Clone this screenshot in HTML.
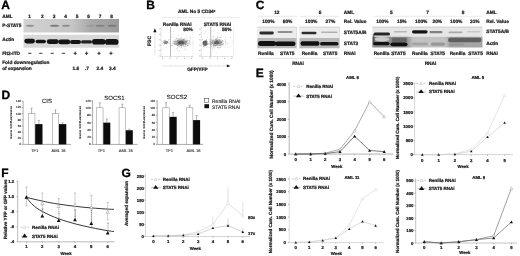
<!DOCTYPE html>
<html><head><meta charset="utf-8"><title>Figure</title>
<style>
html,body{margin:0;padding:0;background:#fff;}
body{width:520px;height:256px;overflow:hidden;}
svg{display:block;filter:blur(0.3px);font-family:"Liberation Sans",sans-serif;text-rendering:geometricPrecision;}
</style></head><body>
<svg width="520" height="256" viewBox="0 0 520 256">
<rect width="520" height="256" fill="#fff"/>
<defs><linearGradient id="gA" x1="0" x2="1" y1="0" y2="0"><stop offset="0" stop-color="#d2d2d2"/><stop offset="0.5" stop-color="#c6c6c6"/><stop offset="0.72" stop-color="#a8a8a8"/><stop offset="1" stop-color="#9c9c9c"/></linearGradient><filter id="b1" x="-20%" y="-60%" width="140%" height="220%"><feGaussianBlur stdDeviation="0.7"/></filter><filter id="b2" x="-20%" y="-60%" width="140%" height="220%"><feGaussianBlur stdDeviation="0.45"/></filter><filter id="b3" x="-50%" y="-50%" width="200%" height="200%"><feGaussianBlur stdDeviation="1.2"/></filter></defs>
<text x="1.3" y="9.3" font-size="12" font-weight="bold" text-anchor="start" fill="#000" stroke="#000" stroke-width="0.3">A</text>
<text x="2.2" y="17.6" font-size="4.8" font-weight="bold" text-anchor="start" fill="#1a1a1a" stroke="#1a1a1a" stroke-width="0.22">AML</text>
<text x="29.5" y="17.6" font-size="4.8" font-weight="bold" text-anchor="middle" fill="#1a1a1a" stroke="#1a1a1a" stroke-width="0.22">1</text>
<text x="42.3" y="17.6" font-size="4.8" font-weight="bold" text-anchor="middle" fill="#1a1a1a" stroke="#1a1a1a" stroke-width="0.22">2</text>
<text x="54" y="17.6" font-size="4.8" font-weight="bold" text-anchor="middle" fill="#1a1a1a" stroke="#1a1a1a" stroke-width="0.22">3</text>
<text x="65.5" y="17.6" font-size="4.8" font-weight="bold" text-anchor="middle" fill="#1a1a1a" stroke="#1a1a1a" stroke-width="0.22">4</text>
<text x="77" y="17.6" font-size="4.8" font-weight="bold" text-anchor="middle" fill="#1a1a1a" stroke="#1a1a1a" stroke-width="0.22">5</text>
<text x="88.5" y="17.6" font-size="4.8" font-weight="bold" text-anchor="middle" fill="#1a1a1a" stroke="#1a1a1a" stroke-width="0.22">6</text>
<text x="100" y="17.6" font-size="4.8" font-weight="bold" text-anchor="middle" fill="#1a1a1a" stroke="#1a1a1a" stroke-width="0.22">7</text>
<text x="111.5" y="17.6" font-size="4.8" font-weight="bold" text-anchor="middle" fill="#1a1a1a" stroke="#1a1a1a" stroke-width="0.22">8</text>
<rect x="23.5" y="19" width="95.5" height="13.5" fill="url(#gA)" stroke="none" stroke-width="0.5"/>
<ellipse cx="30" cy="25.8" rx="4" ry="1.0" fill="#444" opacity="0.45" filter="url(#b2)"/>
<ellipse cx="54.5" cy="25.8" rx="4.5" ry="1.0" fill="#444" opacity="0.6" filter="url(#b2)"/>
<ellipse cx="66" cy="25.8" rx="4" ry="1.0" fill="#444" opacity="0.45" filter="url(#b2)"/>
<ellipse cx="100" cy="25.8" rx="4.5" ry="1.0" fill="#444" opacity="0.35" filter="url(#b2)"/>
<ellipse cx="112" cy="25.8" rx="4.5" ry="1.0" fill="#444" opacity="0.4" filter="url(#b2)"/>
<ellipse cx="90" cy="25.8" rx="4" ry="1.0" fill="#444" opacity="0.15" filter="url(#b2)"/>
<text x="2.2" y="27.2" font-size="4.8" font-weight="bold" text-anchor="start" fill="#1a1a1a" stroke="#1a1a1a" stroke-width="0.22">P-STAT5</text>
<rect x="23.5" y="34.7" width="95.5" height="13" fill="#d8d8d8" stroke="none" stroke-width="0.5"/>
<rect x="24.3" y="38.699999999999996" width="10.7" height="4.8" rx="2.4" fill="#0a0a0a" opacity="0.96" filter="url(#b2)"/>
<rect x="35.5" y="39.7" width="10.5" height="3.6" rx="1.8" fill="#111" opacity="0.96" filter="url(#b2)"/>
<rect x="46.8" y="39.3" width="11.900000000000006" height="4.6" rx="2.3" fill="#0a0a0a" opacity="0.96" filter="url(#b2)"/>
<rect x="58.3" y="39.6" width="11.900000000000006" height="4.6" rx="2.3" fill="#0a0a0a" opacity="0.96" filter="url(#b2)"/>
<rect x="70" y="39.9" width="11" height="4.0" rx="2.0" fill="#111" opacity="0.96" filter="url(#b2)"/>
<rect x="81" y="40.3" width="11" height="3.2" rx="1.6" fill="#1a1a1a" opacity="0.96" filter="url(#b2)"/>
<rect x="92" y="39.0" width="13.599999999999994" height="5.6" rx="2.8" fill="#0a0a0a" opacity="0.96" filter="url(#b2)"/>
<rect x="105" y="39.0" width="13.5" height="5.8" rx="2.9" fill="#0a0a0a" opacity="0.96" filter="url(#b2)"/>
<text x="2.2" y="41.4" font-size="4.8" font-weight="bold" text-anchor="start" fill="#1a1a1a" stroke="#1a1a1a" stroke-width="0.22">Actin</text>
<text x="2.2" y="55.3" font-size="4.8" font-weight="bold" text-anchor="start" fill="#1a1a1a" stroke="#1a1a1a" stroke-width="0.22">Flt3-ITD</text>
<line x1="28.2" y1="53.3" x2="31.400000000000002" y2="53.3" stroke="#222" stroke-width="0.9"/>
<line x1="39.199999999999996" y1="53.3" x2="42.4" y2="53.3" stroke="#222" stroke-width="0.9"/>
<line x1="50.6" y1="53.3" x2="53.800000000000004" y2="53.3" stroke="#222" stroke-width="0.9"/>
<line x1="61.8" y1="53.3" x2="65.0" y2="53.3" stroke="#222" stroke-width="0.9"/>
<line x1="73.60000000000001" y1="53.3" x2="76.8" y2="53.3" stroke="#222" stroke-width="0.9"/>
<line x1="75.2" y1="51.6" x2="75.2" y2="55" stroke="#222" stroke-width="0.9"/>
<line x1="85.0" y1="53.3" x2="88.19999999999999" y2="53.3" stroke="#222" stroke-width="0.9"/>
<line x1="86.6" y1="51.6" x2="86.6" y2="55" stroke="#222" stroke-width="0.9"/>
<line x1="97.4" y1="53.3" x2="100.6" y2="53.3" stroke="#222" stroke-width="0.9"/>
<line x1="99" y1="51.6" x2="99" y2="55" stroke="#222" stroke-width="0.9"/>
<line x1="109.4" y1="53.3" x2="112.6" y2="53.3" stroke="#222" stroke-width="0.9"/>
<line x1="111" y1="51.6" x2="111" y2="55" stroke="#222" stroke-width="0.9"/>
<text x="2.2" y="64.3" font-size="4.8" font-weight="bold" text-anchor="start" fill="#1a1a1a" stroke="#1a1a1a" stroke-width="0.22">Fold downregulation</text>
<text x="2.2" y="69.9" font-size="4.8" font-weight="bold" text-anchor="start" fill="#1a1a1a" stroke="#1a1a1a" stroke-width="0.22">of expansion</text>
<text x="72.5" y="69.9" font-size="4.8" font-weight="bold" text-anchor="start" fill="#1a1a1a" stroke="#1a1a1a" stroke-width="0.22">1.6</text>
<text x="85" y="69.9" font-size="4.8" font-weight="bold" text-anchor="start" fill="#1a1a1a" stroke="#1a1a1a" stroke-width="0.22">.7</text>
<text x="96.5" y="69.9" font-size="4.8" font-weight="bold" text-anchor="start" fill="#1a1a1a" stroke="#1a1a1a" stroke-width="0.22">2.4</text>
<text x="109" y="69.9" font-size="4.8" font-weight="bold" text-anchor="start" fill="#1a1a1a" stroke="#1a1a1a" stroke-width="0.22">3.4</text>
<text x="146.3" y="9.3" font-size="12" font-weight="bold" text-anchor="start" fill="#000" stroke="#000" stroke-width="0.3">B</text>
<text x="196.8" y="13.4" font-size="4.8" font-weight="bold" text-anchor="middle" fill="#1a1a1a" stroke="#1a1a1a" stroke-width="0.22">AML No 5 CD34<tspan font-size="3" dy="-1.5">+</tspan></text>
<line x1="162" y1="17.4" x2="240" y2="17.4" stroke="#d0d0d0" stroke-width="0.45"/>
<text x="191.6" y="25.5" font-size="4.8" font-weight="bold" text-anchor="end" fill="#1a1a1a" stroke="#1a1a1a" stroke-width="0.22">Renilla RNAi</text>
<text x="192.9" y="31" font-size="4.8" font-weight="bold" text-anchor="end" fill="#1a1a1a" stroke="#1a1a1a" stroke-width="0.22">80%</text>
<text x="231.2" y="25.5" font-size="4.8" font-weight="bold" text-anchor="end" fill="#1a1a1a" stroke="#1a1a1a" stroke-width="0.22">STAT5 RNAi</text>
<text x="231.5" y="31" font-size="4.8" font-weight="bold" text-anchor="end" fill="#1a1a1a" stroke="#1a1a1a" stroke-width="0.22">56%</text>
<line x1="161" y1="27" x2="161" y2="56.5" stroke="#aaa" stroke-width="0.5" stroke-dasharray="0.8 0.5"/>
<line x1="161" y1="56.5" x2="193" y2="56.5" stroke="#aaa" stroke-width="0.5" stroke-dasharray="0.8 0.5"/>
<line x1="193.2" y1="27" x2="193.2" y2="56.5" stroke="#d8d8d8" stroke-width="0.4"/>
<line x1="170.5" y1="27" x2="170.5" y2="56.5" stroke="#777" stroke-width="0.5"/>
<line x1="160" y1="29.0" x2="161" y2="29.0" stroke="#999" stroke-width="0.4"/>
<rect x="158.8" y="28.6" width="0.8" height="0.8" fill="#aaa" stroke="none" stroke-width="0.5"/>
<line x1="160" y1="34.4" x2="161" y2="34.4" stroke="#999" stroke-width="0.4"/>
<rect x="158.8" y="34.0" width="0.8" height="0.8" fill="#aaa" stroke="none" stroke-width="0.5"/>
<line x1="160" y1="39.8" x2="161" y2="39.8" stroke="#999" stroke-width="0.4"/>
<rect x="158.8" y="39.400000000000006" width="0.8" height="0.8" fill="#aaa" stroke="none" stroke-width="0.5"/>
<line x1="160" y1="45.2" x2="161" y2="45.2" stroke="#999" stroke-width="0.4"/>
<rect x="158.8" y="44.800000000000004" width="0.8" height="0.8" fill="#aaa" stroke="none" stroke-width="0.5"/>
<line x1="160" y1="50.6" x2="161" y2="50.6" stroke="#999" stroke-width="0.4"/>
<rect x="158.8" y="50.2" width="0.8" height="0.8" fill="#aaa" stroke="none" stroke-width="0.5"/>
<line x1="160" y1="56.0" x2="161" y2="56.0" stroke="#999" stroke-width="0.4"/>
<rect x="158.8" y="55.6" width="0.8" height="0.8" fill="#aaa" stroke="none" stroke-width="0.5"/>
<line x1="162.5" y1="56.5" x2="162.5" y2="57.5" stroke="#999" stroke-width="0.4"/>
<rect x="162.0" y="58.2" width="1" height="0.8" fill="#aaa" stroke="none" stroke-width="0.5"/>
<line x1="169.8" y1="56.5" x2="169.8" y2="57.5" stroke="#999" stroke-width="0.4"/>
<rect x="169.3" y="58.2" width="1" height="0.8" fill="#aaa" stroke="none" stroke-width="0.5"/>
<line x1="177.1" y1="56.5" x2="177.1" y2="57.5" stroke="#999" stroke-width="0.4"/>
<rect x="176.6" y="58.2" width="1" height="0.8" fill="#aaa" stroke="none" stroke-width="0.5"/>
<line x1="184.4" y1="56.5" x2="184.4" y2="57.5" stroke="#999" stroke-width="0.4"/>
<rect x="183.9" y="58.2" width="1" height="0.8" fill="#aaa" stroke="none" stroke-width="0.5"/>
<line x1="191.7" y1="56.5" x2="191.7" y2="57.5" stroke="#999" stroke-width="0.4"/>
<rect x="191.2" y="58.2" width="1" height="0.8" fill="#aaa" stroke="none" stroke-width="0.5"/>
<ellipse cx="165.8" cy="42.4" rx="2.2" ry="1.6" fill="#555" opacity="0.55" filter="url(#b1)"/>
<ellipse cx="181" cy="42.5" rx="6.5" ry="3.0" fill="#444" opacity="0.5" filter="url(#b3)"/>
<ellipse cx="181" cy="42.5" rx="3.3" ry="1.6" fill="#222" opacity="0.6" filter="url(#b1)"/>
<path d="M166.0,43.9h.6v.6h-.6zM164.3,43.6h.6v.6h-.6zM165.4,42.1h.6v.6h-.6zM168.8,42.6h.6v.6h-.6zM165.7,43.3h.6v.6h-.6zM167.6,42.4h.6v.6h-.6zM166.7,41.2h.6v.6h-.6zM165.2,41.9h.6v.6h-.6zM163.7,40.6h.6v.6h-.6zM163.2,42.1h.6v.6h-.6zM165.5,42.0h.6v.6h-.6zM165.9,40.8h.6v.6h-.6zM165.7,42.7h.6v.6h-.6zM167.0,41.4h.6v.6h-.6zM165.2,40.0h.6v.6h-.6zM165.0,39.8h.6v.6h-.6zM163.5,43.7h.6v.6h-.6zM162.3,43.4h.6v.6h-.6zM166.3,42.0h.6v.6h-.6zM166.5,43.0h.6v.6h-.6zM167.5,42.1h.6v.6h-.6zM164.9,41.7h.6v.6h-.6zM164.2,42.3h.6v.6h-.6zM164.5,43.7h.6v.6h-.6zM162.8,41.1h.6v.6h-.6zM164.3,39.9h.6v.6h-.6zM168.8,39.5h.6v.6h-.6zM165.3,41.8h.6v.6h-.6zM168.4,40.0h.6v.6h-.6zM167.5,41.5h.6v.6h-.6z" fill="#555" opacity="0.7"/>
<path d="M180.3,40.9h.6v.6h-.6zM183.9,39.8h.6v.6h-.6zM180.6,43.3h.6v.6h-.6zM189.3,36.7h.6v.6h-.6zM187.9,44.8h.6v.6h-.6zM178.8,43.2h.6v.6h-.6zM178.9,46.5h.6v.6h-.6zM181.9,42.0h.6v.6h-.6zM180.0,42.0h.6v.6h-.6zM180.2,40.4h.6v.6h-.6zM190.3,37.9h.6v.6h-.6zM164.8,42.2h.6v.6h-.6zM180.3,43.4h.6v.6h-.6zM180.1,42.1h.6v.6h-.6zM182.5,44.8h.6v.6h-.6zM179.0,41.6h.6v.6h-.6zM189.7,43.8h.6v.6h-.6zM176.6,48.1h.6v.6h-.6zM184.5,41.1h.6v.6h-.6zM175.7,43.2h.6v.6h-.6zM177.3,40.0h.6v.6h-.6zM175.2,41.3h.6v.6h-.6zM186.0,41.5h.6v.6h-.6zM174.5,44.1h.6v.6h-.6zM181.3,44.5h.6v.6h-.6zM186.4,42.1h.6v.6h-.6zM180.3,42.4h.6v.6h-.6zM175.9,44.1h.6v.6h-.6zM187.2,42.9h.6v.6h-.6zM179.9,41.9h.6v.6h-.6zM177.5,40.6h.6v.6h-.6zM179.2,40.5h.6v.6h-.6zM179.0,38.7h.6v.6h-.6zM182.6,42.6h.6v.6h-.6zM175.8,37.0h.6v.6h-.6zM181.0,45.1h.6v.6h-.6zM177.7,41.3h.6v.6h-.6zM178.4,44.1h.6v.6h-.6zM176.9,44.9h.6v.6h-.6zM179.6,44.7h.6v.6h-.6zM181.1,41.9h.6v.6h-.6zM174.3,40.9h.6v.6h-.6zM179.8,44.1h.6v.6h-.6zM182.1,40.8h.6v.6h-.6zM182.8,44.9h.6v.6h-.6zM180.3,41.4h.6v.6h-.6zM179.2,44.4h.6v.6h-.6zM183.4,40.3h.6v.6h-.6zM182.7,41.3h.6v.6h-.6zM177.6,45.5h.6v.6h-.6zM184.7,40.8h.6v.6h-.6zM181.4,43.7h.6v.6h-.6zM178.1,42.2h.6v.6h-.6zM184.0,38.2h.6v.6h-.6zM182.5,44.3h.6v.6h-.6zM183.3,39.3h.6v.6h-.6zM182.4,40.4h.6v.6h-.6zM183.6,44.0h.6v.6h-.6zM182.0,40.7h.6v.6h-.6zM178.3,44.5h.6v.6h-.6zM177.0,43.7h.6v.6h-.6zM183.3,41.8h.6v.6h-.6zM191.8,42.7h.6v.6h-.6zM190.7,37.7h.6v.6h-.6zM170.9,44.9h.6v.6h-.6zM183.9,41.8h.6v.6h-.6zM180.8,37.9h.6v.6h-.6zM178.2,40.0h.6v.6h-.6zM180.0,44.6h.6v.6h-.6zM181.2,43.4h.6v.6h-.6zM177.9,41.5h.6v.6h-.6zM181.5,41.8h.6v.6h-.6zM186.7,40.4h.6v.6h-.6zM189.5,40.1h.6v.6h-.6zM185.8,40.6h.6v.6h-.6zM188.4,42.8h.6v.6h-.6zM182.8,44.3h.6v.6h-.6zM178.1,40.0h.6v.6h-.6zM171.9,45.4h.6v.6h-.6zM177.9,41.1h.6v.6h-.6zM180.9,47.3h.6v.6h-.6zM173.2,43.1h.6v.6h-.6zM179.2,43.8h.6v.6h-.6zM172.9,41.5h.6v.6h-.6zM184.8,46.2h.6v.6h-.6zM188.2,40.4h.6v.6h-.6zM181.2,42.2h.6v.6h-.6zM174.8,39.0h.6v.6h-.6zM184.4,43.1h.6v.6h-.6zM180.4,45.4h.6v.6h-.6zM176.5,43.8h.6v.6h-.6zM181.0,42.4h.6v.6h-.6zM183.2,42.9h.6v.6h-.6zM182.2,43.1h.6v.6h-.6zM189.7,41.8h.6v.6h-.6zM185.6,44.0h.6v.6h-.6zM179.4,44.4h.6v.6h-.6zM177.1,45.3h.6v.6h-.6zM177.4,41.3h.6v.6h-.6zM182.5,44.5h.6v.6h-.6zM185.1,44.6h.6v.6h-.6zM180.1,40.2h.6v.6h-.6zM183.5,43.2h.6v.6h-.6zM176.7,44.8h.6v.6h-.6zM181.9,40.2h.6v.6h-.6zM183.0,39.3h.6v.6h-.6zM177.1,43.5h.6v.6h-.6zM174.0,42.6h.6v.6h-.6zM174.9,44.3h.6v.6h-.6zM177.7,42.9h.6v.6h-.6zM174.2,41.7h.6v.6h-.6zM185.3,43.6h.6v.6h-.6zM172.7,44.7h.6v.6h-.6zM185.0,41.6h.6v.6h-.6zM187.4,40.0h.6v.6h-.6zM180.6,45.2h.6v.6h-.6zM186.9,45.6h.6v.6h-.6zM176.1,38.2h.6v.6h-.6zM182.8,39.1h.6v.6h-.6zM180.4,39.4h.6v.6h-.6zM185.8,44.4h.6v.6h-.6zM183.5,42.5h.6v.6h-.6zM181.2,41.8h.6v.6h-.6zM182.7,43.1h.6v.6h-.6zM183.1,41.5h.6v.6h-.6zM189.5,43.2h.6v.6h-.6zM187.3,45.7h.6v.6h-.6zM177.0,38.5h.6v.6h-.6zM186.7,41.6h.6v.6h-.6zM181.4,41.9h.6v.6h-.6zM181.6,39.6h.6v.6h-.6zM180.5,41.4h.6v.6h-.6zM180.9,36.9h.6v.6h-.6zM184.7,43.3h.6v.6h-.6zM173.2,40.7h.6v.6h-.6zM181.1,44.0h.6v.6h-.6zM181.0,45.8h.6v.6h-.6zM181.1,40.1h.6v.6h-.6zM178.0,44.3h.6v.6h-.6zM178.2,44.5h.6v.6h-.6zM185.6,43.9h.6v.6h-.6zM185.6,42.1h.6v.6h-.6zM181.0,41.1h.6v.6h-.6zM178.3,38.7h.6v.6h-.6zM178.5,39.9h.6v.6h-.6zM174.6,42.9h.6v.6h-.6zM183.0,41.7h.6v.6h-.6zM187.2,44.8h.6v.6h-.6zM185.7,41.1h.6v.6h-.6zM174.3,43.8h.6v.6h-.6z" fill="#555" opacity="0.7"/>
<path d="M183.8,46.1h.6v.6h-.6zM184.8,48.8h.6v.6h-.6zM178.4,45.8h.6v.6h-.6zM172.9,31.0h.6v.6h-.6zM177.0,50.0h.6v.6h-.6zM165.9,47.6h.6v.6h-.6zM174.9,40.5h.6v.6h-.6zM181.4,43.6h.6v.6h-.6zM172.2,43.1h.6v.6h-.6zM185.0,46.7h.6v.6h-.6zM174.2,50.3h.6v.6h-.6zM168.9,43.4h.6v.6h-.6zM164.3,44.4h.6v.6h-.6zM186.0,36.8h.6v.6h-.6zM166.7,43.4h.6v.6h-.6zM186.7,38.5h.6v.6h-.6zM178.6,29.9h.6v.6h-.6zM174.6,43.2h.6v.6h-.6zM182.4,50.4h.6v.6h-.6zM170.7,31.2h.6v.6h-.6zM185.1,39.5h.6v.6h-.6zM183.6,46.1h.6v.6h-.6zM186.4,49.7h.6v.6h-.6zM180.4,52.5h.6v.6h-.6zM177.3,47.3h.6v.6h-.6zM180.5,40.4h.6v.6h-.6zM178.8,47.0h.6v.6h-.6zM169.2,38.9h.6v.6h-.6zM189.1,42.7h.6v.6h-.6zM171.4,44.7h.6v.6h-.6zM184.0,48.9h.6v.6h-.6zM189.6,41.1h.6v.6h-.6zM176.6,41.8h.6v.6h-.6zM178.9,49.8h.6v.6h-.6zM184.4,41.3h.6v.6h-.6zM189.1,40.8h.6v.6h-.6zM183.1,34.2h.6v.6h-.6zM177.2,49.7h.6v.6h-.6zM171.8,35.0h.6v.6h-.6zM179.5,50.8h.6v.6h-.6zM176.7,41.9h.6v.6h-.6zM172.6,42.7h.6v.6h-.6zM178.3,35.1h.6v.6h-.6zM175.8,41.2h.6v.6h-.6zM173.3,36.9h.6v.6h-.6z" fill="#999" opacity="0.7"/>
<line x1="201.2" y1="27" x2="201.2" y2="56.5" stroke="#aaa" stroke-width="0.5" stroke-dasharray="0.8 0.5"/>
<line x1="201.2" y1="56.5" x2="233.2" y2="56.5" stroke="#aaa" stroke-width="0.5" stroke-dasharray="0.8 0.5"/>
<line x1="233.39999999999998" y1="27" x2="233.39999999999998" y2="56.5" stroke="#d8d8d8" stroke-width="0.4"/>
<line x1="210.7" y1="27" x2="210.7" y2="56.5" stroke="#777" stroke-width="0.5"/>
<line x1="200.2" y1="29.0" x2="201.2" y2="29.0" stroke="#999" stroke-width="0.4"/>
<rect x="199.0" y="28.6" width="0.8" height="0.8" fill="#aaa" stroke="none" stroke-width="0.5"/>
<line x1="200.2" y1="34.4" x2="201.2" y2="34.4" stroke="#999" stroke-width="0.4"/>
<rect x="199.0" y="34.0" width="0.8" height="0.8" fill="#aaa" stroke="none" stroke-width="0.5"/>
<line x1="200.2" y1="39.8" x2="201.2" y2="39.8" stroke="#999" stroke-width="0.4"/>
<rect x="199.0" y="39.400000000000006" width="0.8" height="0.8" fill="#aaa" stroke="none" stroke-width="0.5"/>
<line x1="200.2" y1="45.2" x2="201.2" y2="45.2" stroke="#999" stroke-width="0.4"/>
<rect x="199.0" y="44.800000000000004" width="0.8" height="0.8" fill="#aaa" stroke="none" stroke-width="0.5"/>
<line x1="200.2" y1="50.6" x2="201.2" y2="50.6" stroke="#999" stroke-width="0.4"/>
<rect x="199.0" y="50.2" width="0.8" height="0.8" fill="#aaa" stroke="none" stroke-width="0.5"/>
<line x1="200.2" y1="56.0" x2="201.2" y2="56.0" stroke="#999" stroke-width="0.4"/>
<rect x="199.0" y="55.6" width="0.8" height="0.8" fill="#aaa" stroke="none" stroke-width="0.5"/>
<line x1="202.7" y1="56.5" x2="202.7" y2="57.5" stroke="#999" stroke-width="0.4"/>
<rect x="202.2" y="58.2" width="1" height="0.8" fill="#aaa" stroke="none" stroke-width="0.5"/>
<line x1="210.0" y1="56.5" x2="210.0" y2="57.5" stroke="#999" stroke-width="0.4"/>
<rect x="209.5" y="58.2" width="1" height="0.8" fill="#aaa" stroke="none" stroke-width="0.5"/>
<line x1="217.29999999999998" y1="56.5" x2="217.29999999999998" y2="57.5" stroke="#999" stroke-width="0.4"/>
<rect x="216.79999999999998" y="58.2" width="1" height="0.8" fill="#aaa" stroke="none" stroke-width="0.5"/>
<line x1="224.6" y1="56.5" x2="224.6" y2="57.5" stroke="#999" stroke-width="0.4"/>
<rect x="224.1" y="58.2" width="1" height="0.8" fill="#aaa" stroke="none" stroke-width="0.5"/>
<line x1="231.89999999999998" y1="56.5" x2="231.89999999999998" y2="57.5" stroke="#999" stroke-width="0.4"/>
<rect x="231.39999999999998" y="58.2" width="1" height="0.8" fill="#aaa" stroke="none" stroke-width="0.5"/>
<ellipse cx="205.0" cy="43.2" rx="2.4" ry="2.6" fill="#333" opacity="0.65" filter="url(#b1)"/>
<ellipse cx="216.7" cy="42.5" rx="6.0" ry="3.0" fill="#444" opacity="0.45" filter="url(#b3)"/>
<ellipse cx="216.7" cy="42.5" rx="2.6" ry="1.6" fill="#222" opacity="0.55" filter="url(#b1)"/>
<path d="M206.6,47.0h.6v.6h-.6zM204.7,42.4h.6v.6h-.6zM206.0,42.7h.6v.6h-.6zM203.9,46.0h.6v.6h-.6zM203.5,41.7h.6v.6h-.6zM204.1,41.4h.6v.6h-.6zM204.8,44.4h.6v.6h-.6zM207.5,44.5h.6v.6h-.6zM205.3,40.7h.6v.6h-.6zM205.1,41.3h.6v.6h-.6zM205.0,45.2h.6v.6h-.6zM205.5,42.8h.6v.6h-.6zM204.0,43.2h.6v.6h-.6zM205.4,41.3h.6v.6h-.6zM204.4,45.0h.6v.6h-.6zM202.5,42.3h.6v.6h-.6zM203.3,46.3h.6v.6h-.6zM206.2,44.2h.6v.6h-.6zM205.8,43.8h.6v.6h-.6zM205.7,40.0h.6v.6h-.6zM205.6,44.4h.6v.6h-.6zM202.9,44.8h.6v.6h-.6zM206.3,40.2h.6v.6h-.6zM204.4,42.6h.6v.6h-.6zM204.4,44.0h.6v.6h-.6zM203.2,42.8h.6v.6h-.6zM205.6,44.6h.6v.6h-.6zM205.3,42.7h.6v.6h-.6zM206.3,39.2h.6v.6h-.6zM206.7,42.6h.6v.6h-.6zM203.2,42.3h.6v.6h-.6zM202.3,39.1h.6v.6h-.6zM204.7,41.6h.6v.6h-.6zM206.4,41.4h.6v.6h-.6zM203.1,41.3h.6v.6h-.6zM207.9,43.3h.6v.6h-.6zM204.2,41.2h.6v.6h-.6zM203.4,42.9h.6v.6h-.6zM205.9,45.5h.6v.6h-.6zM207.0,43.7h.6v.6h-.6zM204.1,41.5h.6v.6h-.6zM205.9,42.5h.6v.6h-.6zM205.8,40.5h.6v.6h-.6zM206.6,43.8h.6v.6h-.6zM205.3,44.0h.6v.6h-.6zM203.8,46.8h.6v.6h-.6zM204.9,42.2h.6v.6h-.6zM206.6,41.1h.6v.6h-.6z" fill="#444" opacity="0.7"/>
<path d="M222.7,40.8h.6v.6h-.6zM216.5,40.3h.6v.6h-.6zM220.1,37.3h.6v.6h-.6zM219.6,40.5h.6v.6h-.6zM216.9,39.7h.6v.6h-.6zM217.7,42.9h.6v.6h-.6zM219.2,43.3h.6v.6h-.6zM219.3,44.9h.6v.6h-.6zM215.1,39.7h.6v.6h-.6zM211.3,44.1h.6v.6h-.6zM215.1,45.0h.6v.6h-.6zM216.9,40.1h.6v.6h-.6zM220.5,47.2h.6v.6h-.6zM215.9,40.2h.6v.6h-.6zM213.1,44.6h.6v.6h-.6zM214.2,41.5h.6v.6h-.6zM219.6,42.5h.6v.6h-.6zM217.2,41.2h.6v.6h-.6zM214.0,42.9h.6v.6h-.6zM217.4,43.9h.6v.6h-.6zM214.6,43.3h.6v.6h-.6zM218.7,42.7h.6v.6h-.6zM219.1,44.9h.6v.6h-.6zM217.5,42.7h.6v.6h-.6zM212.6,43.3h.6v.6h-.6zM216.3,41.8h.6v.6h-.6zM213.2,43.9h.6v.6h-.6zM227.4,43.5h.6v.6h-.6zM217.1,43.5h.6v.6h-.6zM214.2,42.7h.6v.6h-.6zM213.9,41.0h.6v.6h-.6zM217.7,43.1h.6v.6h-.6zM216.2,40.6h.6v.6h-.6zM217.8,39.9h.6v.6h-.6zM219.9,41.7h.6v.6h-.6zM216.7,44.4h.6v.6h-.6zM219.0,39.4h.6v.6h-.6zM215.7,43.4h.6v.6h-.6zM212.1,36.7h.6v.6h-.6zM216.4,42.4h.6v.6h-.6zM218.5,42.7h.6v.6h-.6zM217.3,43.1h.6v.6h-.6zM222.5,43.7h.6v.6h-.6zM219.0,41.6h.6v.6h-.6zM221.4,42.1h.6v.6h-.6zM219.8,37.4h.6v.6h-.6zM217.7,42.3h.6v.6h-.6zM214.8,45.6h.6v.6h-.6zM218.4,42.2h.6v.6h-.6zM214.5,47.0h.6v.6h-.6zM219.8,44.1h.6v.6h-.6zM213.5,45.6h.6v.6h-.6zM219.0,41.9h.6v.6h-.6zM216.3,38.6h.6v.6h-.6zM219.4,39.9h.6v.6h-.6zM220.2,41.4h.6v.6h-.6zM214.1,43.4h.6v.6h-.6zM217.6,39.8h.6v.6h-.6zM216.4,44.0h.6v.6h-.6zM215.6,39.3h.6v.6h-.6zM215.7,40.2h.6v.6h-.6zM214.3,42.6h.6v.6h-.6zM216.5,42.0h.6v.6h-.6zM209.8,43.3h.6v.6h-.6zM215.9,41.5h.6v.6h-.6zM217.4,47.1h.6v.6h-.6zM211.3,38.7h.6v.6h-.6zM219.9,40.6h.6v.6h-.6zM222.1,40.1h.6v.6h-.6zM214.7,44.5h.6v.6h-.6zM220.5,43.6h.6v.6h-.6zM218.6,42.2h.6v.6h-.6zM214.9,42.0h.6v.6h-.6zM222.0,44.2h.6v.6h-.6zM216.8,43.3h.6v.6h-.6zM220.2,45.3h.6v.6h-.6zM216.1,42.3h.6v.6h-.6zM218.1,48.7h.6v.6h-.6zM217.7,45.5h.6v.6h-.6zM210.3,44.5h.6v.6h-.6zM210.8,39.9h.6v.6h-.6zM214.1,42.2h.6v.6h-.6zM217.4,43.4h.6v.6h-.6zM217.6,41.5h.6v.6h-.6zM227.5,43.4h.6v.6h-.6zM219.5,47.3h.6v.6h-.6zM220.7,43.9h.6v.6h-.6zM218.0,46.9h.6v.6h-.6zM212.2,40.2h.6v.6h-.6zM217.3,37.6h.6v.6h-.6zM213.5,45.2h.6v.6h-.6zM214.8,42.9h.6v.6h-.6zM219.6,39.7h.6v.6h-.6zM217.8,41.0h.6v.6h-.6zM212.1,41.8h.6v.6h-.6zM216.5,41.5h.6v.6h-.6zM214.0,44.8h.6v.6h-.6zM221.5,43.8h.6v.6h-.6zM216.3,40.0h.6v.6h-.6zM213.3,39.9h.6v.6h-.6zM217.6,44.7h.6v.6h-.6zM220.5,42.4h.6v.6h-.6zM215.1,42.9h.6v.6h-.6zM217.2,43.9h.6v.6h-.6zM222.8,40.9h.6v.6h-.6zM225.4,37.5h.6v.6h-.6zM209.3,38.9h.6v.6h-.6zM212.4,41.9h.6v.6h-.6zM225.3,40.8h.6v.6h-.6zM221.3,41.6h.6v.6h-.6zM217.3,40.1h.6v.6h-.6zM226.1,42.4h.6v.6h-.6zM214.1,47.9h.6v.6h-.6zM217.5,43.5h.6v.6h-.6zM216.1,40.5h.6v.6h-.6zM210.7,42.1h.6v.6h-.6zM223.4,43.5h.6v.6h-.6zM216.0,45.0h.6v.6h-.6zM212.8,45.8h.6v.6h-.6zM216.6,40.5h.6v.6h-.6zM219.5,43.7h.6v.6h-.6zM215.3,43.0h.6v.6h-.6zM220.8,45.8h.6v.6h-.6zM213.2,36.2h.6v.6h-.6zM225.2,41.9h.6v.6h-.6zM215.0,43.5h.6v.6h-.6zM214.9,45.0h.6v.6h-.6zM211.5,42.0h.6v.6h-.6zM211.5,46.1h.6v.6h-.6zM215.7,45.1h.6v.6h-.6z" fill="#555" opacity="0.7"/>
<path d="M228.6,36.0h.6v.6h-.6zM214.2,46.4h.6v.6h-.6zM216.6,41.8h.6v.6h-.6zM223.7,47.5h.6v.6h-.6zM210.9,41.8h.6v.6h-.6zM222.0,43.7h.6v.6h-.6zM217.5,36.4h.6v.6h-.6zM231.9,41.2h.6v.6h-.6zM218.6,42.3h.6v.6h-.6zM216.8,43.3h.6v.6h-.6zM208.7,44.6h.6v.6h-.6zM226.9,44.7h.6v.6h-.6zM222.7,45.1h.6v.6h-.6zM216.5,52.4h.6v.6h-.6zM210.1,44.6h.6v.6h-.6zM225.4,44.1h.6v.6h-.6zM206.8,36.6h.6v.6h-.6zM230.2,37.3h.6v.6h-.6zM216.3,45.5h.6v.6h-.6zM217.0,32.8h.6v.6h-.6zM209.3,41.1h.6v.6h-.6zM217.0,43.4h.6v.6h-.6zM204.3,33.3h.6v.6h-.6zM224.6,39.1h.6v.6h-.6zM205.7,31.6h.6v.6h-.6zM221.0,35.6h.6v.6h-.6zM206.9,45.9h.6v.6h-.6zM218.9,45.6h.6v.6h-.6zM207.4,40.9h.6v.6h-.6zM210.3,47.4h.6v.6h-.6zM219.4,36.8h.6v.6h-.6zM221.3,41.7h.6v.6h-.6zM211.9,48.6h.6v.6h-.6zM226.0,31.3h.6v.6h-.6zM214.5,41.6h.6v.6h-.6zM206.1,39.4h.6v.6h-.6zM208.9,42.8h.6v.6h-.6zM211.2,30.8h.6v.6h-.6zM226.9,47.4h.6v.6h-.6zM208.7,47.3h.6v.6h-.6zM212.5,39.7h.6v.6h-.6zM221.2,40.8h.6v.6h-.6zM203.6,49.4h.6v.6h-.6zM213.3,46.5h.6v.6h-.6zM212.5,47.5h.6v.6h-.6zM215.2,45.4h.6v.6h-.6zM221.9,44.4h.6v.6h-.6zM217.3,44.6h.6v.6h-.6zM222.9,35.9h.6v.6h-.6zM216.6,42.0h.6v.6h-.6zM222.6,44.3h.6v.6h-.6zM209.1,43.0h.6v.6h-.6z" fill="#999" opacity="0.7"/>
<text x="150.6" y="41" font-size="5.0" font-weight="bold" text-anchor="middle" fill="#1a1a1a" transform="rotate(-90 150.6 41)" stroke="#1a1a1a" stroke-width="0.22">FSC</text>
<line x1="154.9" y1="54.5" x2="154.9" y2="31.5" stroke="#aaa" stroke-width="0.5" stroke-dasharray="0.8 0.5"/>
<polygon points="154.9,28.3 153.3,32.2 156.5,32.2" fill="#111"/>
<line x1="162" y1="65.9" x2="227" y2="65.9" stroke="#aaa" stroke-width="0.5" stroke-dasharray="0.8 0.5"/>
<polygon points="230.5,65.9 226.8,64.5 226.8,67.3" fill="#111"/>
<text x="197.4" y="70.8" font-size="4.8" font-weight="bold" text-anchor="middle" fill="#1a1a1a" stroke="#1a1a1a" stroke-width="0.22">GFP/YFP</text>
<text x="255.8" y="9.3" font-size="12" font-weight="bold" text-anchor="start" fill="#000" stroke="#000" stroke-width="0.3">C</text>
<text x="276.8" y="14.1" font-size="4.8" font-weight="bold" text-anchor="middle" fill="#1a1a1a" stroke="#1a1a1a" stroke-width="0.22">12</text>
<text x="320" y="14.1" font-size="4.8" font-weight="bold" text-anchor="middle" fill="#1a1a1a" stroke="#1a1a1a" stroke-width="0.22">6</text>
<text x="343.8" y="14.1" font-size="4.8" font-weight="bold" text-anchor="start" fill="#1a1a1a" stroke="#1a1a1a" stroke-width="0.22">AML</text>
<line x1="258" y1="16.3" x2="297" y2="16.3" stroke="#d4d4d4" stroke-width="0.5"/>
<line x1="300" y1="16.3" x2="339" y2="16.3" stroke="#d4d4d4" stroke-width="0.5"/>
<text x="268.4" y="22.7" font-size="4.8" font-weight="bold" text-anchor="middle" fill="#1a1a1a" stroke="#1a1a1a" stroke-width="0.22">100%</text>
<text x="287.6" y="22.7" font-size="4.8" font-weight="bold" text-anchor="middle" fill="#1a1a1a" stroke="#1a1a1a" stroke-width="0.22">80%</text>
<text x="311.2" y="22.7" font-size="4.8" font-weight="bold" text-anchor="middle" fill="#1a1a1a" stroke="#1a1a1a" stroke-width="0.22">100%</text>
<text x="330.4" y="22.7" font-size="4.8" font-weight="bold" text-anchor="middle" fill="#1a1a1a" stroke="#1a1a1a" stroke-width="0.22">27%</text>
<text x="343.8" y="22.7" font-size="4.8" font-weight="bold" text-anchor="start" fill="#1a1a1a" stroke="#1a1a1a" stroke-width="0.22">Rel. Value</text>
<rect x="257.3" y="27" width="39.2" height="11" fill="#ececec" stroke="none" stroke-width="0.5"/>
<rect x="257.3" y="38" width="39.2" height="10.3" fill="#b8b8b8" stroke="none" stroke-width="0.5"/>
<line x1="257.3" y1="27" x2="296.5" y2="27" stroke="#aaa" stroke-width="0.4"/>
<line x1="296.5" y1="27" x2="296.5" y2="48.3" stroke="#bbb" stroke-width="0.4"/>
<rect x="299.4" y="27" width="40" height="11" fill="#ececec" stroke="none" stroke-width="0.5"/>
<rect x="299.4" y="38" width="40" height="10.3" fill="#b8b8b8" stroke="none" stroke-width="0.5"/>
<line x1="299.4" y1="27" x2="339.4" y2="27" stroke="#aaa" stroke-width="0.4"/>
<line x1="339.4" y1="27" x2="339.4" y2="48.3" stroke="#bbb" stroke-width="0.4"/>
<rect x="259.4" y="31.6" width="14.400000000000034" height="2.8" rx="1.4" fill="#222" opacity="0.95" filter="url(#b2)"/>
<rect x="277.5" y="31.0" width="15.0" height="2.0" rx="1.0" fill="#777" opacity="0.8" filter="url(#b2)"/>
<rect x="301.5" y="31.7" width="15.0" height="2.6" rx="1.3" fill="#222" opacity="0.95" filter="url(#b2)"/>
<rect x="321" y="31.400000000000002" width="16.5" height="1.6" rx="0.8" fill="#999" opacity="0.7" filter="url(#b2)"/>
<rect x="258" y="41.0" width="18" height="5.0" rx="2.5" fill="#0a0a0a" opacity="0.97" filter="url(#b2)"/>
<rect x="275" y="41.5" width="20.5" height="4.6" rx="2.3" fill="#0a0a0a" opacity="0.97" filter="url(#b2)"/>
<rect x="300.5" y="41.3" width="19.0" height="4.4" rx="2.2" fill="#0a0a0a" opacity="0.97" filter="url(#b2)"/>
<rect x="320" y="42.099999999999994" width="18.5" height="3.4" rx="1.7" fill="#111" opacity="0.95" filter="url(#b2)"/>
<text x="343.8" y="33.7" font-size="4.8" font-weight="bold" text-anchor="start" fill="#1a1a1a" stroke="#1a1a1a" stroke-width="0.22">STAT5A/B</text>
<text x="343.8" y="44.5" font-size="4.8" font-weight="bold" text-anchor="start" fill="#1a1a1a" stroke="#1a1a1a" stroke-width="0.22">STAT3</text>
<text x="343.8" y="55" font-size="4.8" font-weight="bold" text-anchor="start" fill="#1a1a1a" stroke="#1a1a1a" stroke-width="0.22">RNAi</text>
<text x="265.9" y="55" font-size="4.8" font-weight="bold" text-anchor="middle" fill="#1a1a1a" stroke="#1a1a1a" stroke-width="0.22">Renilla</text>
<text x="287.3" y="55" font-size="4.8" font-weight="bold" text-anchor="middle" fill="#1a1a1a" stroke="#1a1a1a" stroke-width="0.22">STAT5</text>
<text x="309.5" y="55" font-size="4.8" font-weight="bold" text-anchor="middle" fill="#1a1a1a" stroke="#1a1a1a" stroke-width="0.22">Renilla</text>
<text x="330.2" y="55" font-size="4.8" font-weight="bold" text-anchor="middle" fill="#1a1a1a" stroke="#1a1a1a" stroke-width="0.22">STAT5</text>
<line x1="258" y1="58.3" x2="339.5" y2="58.3" stroke="#c4c4c4" stroke-width="0.5"/>
<text x="298" y="64.8" font-size="4.8" font-weight="bold" text-anchor="middle" fill="#1a1a1a" stroke="#1a1a1a" stroke-width="0.22">RNAi</text>
<text x="391.3" y="14.1" font-size="4.8" font-weight="bold" text-anchor="middle" fill="#1a1a1a" stroke="#1a1a1a" stroke-width="0.22">5</text>
<text x="427.5" y="14.1" font-size="4.8" font-weight="bold" text-anchor="middle" fill="#1a1a1a" stroke="#1a1a1a" stroke-width="0.22">7</text>
<text x="463.2" y="14.1" font-size="4.8" font-weight="bold" text-anchor="middle" fill="#1a1a1a" stroke="#1a1a1a" stroke-width="0.22">8</text>
<text x="486.2" y="14.1" font-size="4.8" font-weight="bold" text-anchor="start" fill="#1a1a1a" stroke="#1a1a1a" stroke-width="0.22">AML</text>
<line x1="373" y1="16.3" x2="482" y2="16.3" stroke="#d4d4d4" stroke-width="0.5"/>
<text x="382.4" y="22.7" font-size="4.8" font-weight="bold" text-anchor="middle" fill="#1a1a1a" stroke="#1a1a1a" stroke-width="0.22">100%</text>
<text x="401.8" y="22.7" font-size="4.8" font-weight="bold" text-anchor="middle" fill="#1a1a1a" stroke="#1a1a1a" stroke-width="0.22">15%</text>
<text x="421.2" y="22.7" font-size="4.8" font-weight="bold" text-anchor="middle" fill="#1a1a1a" stroke="#1a1a1a" stroke-width="0.22">100%</text>
<text x="437.3" y="22.7" font-size="4.8" font-weight="bold" text-anchor="middle" fill="#1a1a1a" stroke="#1a1a1a" stroke-width="0.22">20%</text>
<text x="456.2" y="22.7" font-size="4.8" font-weight="bold" text-anchor="middle" fill="#1a1a1a" stroke="#1a1a1a" stroke-width="0.22">100%</text>
<text x="474.8" y="22.7" font-size="4.8" font-weight="bold" text-anchor="middle" fill="#1a1a1a" stroke="#1a1a1a" stroke-width="0.22">31%</text>
<text x="486.2" y="22.7" font-size="4.8" font-weight="bold" text-anchor="start" fill="#1a1a1a" stroke="#1a1a1a" stroke-width="0.22">Rel. Value</text>
<rect x="372.3" y="27" width="110.2" height="9.7" fill="#e6e6e6" stroke="none" stroke-width="0.5"/>
<linearGradient id="gC" x1="0" x2="1" y1="0" y2="0"><stop offset="0" stop-color="#8e8e8e"/><stop offset="0.31" stop-color="#8e8e8e"/><stop offset="0.37" stop-color="#c2c2c2"/><stop offset="0.66" stop-color="#c2c2c2"/><stop offset="0.71" stop-color="#a2a2a2"/><stop offset="1" stop-color="#a6a6a6"/></linearGradient>
<rect x="372.3" y="36.7" width="110.2" height="10.8" fill="url(#gC)" stroke="none" stroke-width="0.5"/>
<line x1="372.3" y1="27" x2="482.5" y2="27" stroke="#999" stroke-width="0.4"/>
<ellipse cx="382" cy="39.2" rx="7.2" ry="2.3" fill="#d0d0d0" opacity="0.95" filter="url(#b1)"/>
<rect x="373.6" y="32.4" width="16.399999999999977" height="3.0" rx="1.5" fill="#1a1a1a" opacity="0.95" filter="url(#b2)"/>
<rect x="373" y="41.9" width="16.5" height="3.4" rx="1.7" fill="#0a0a0a" opacity="0.97" filter="url(#b2)"/>
<rect x="372.8" y="34" width="1.8" height="10" fill="#333" stroke="none" stroke-width="0.5" opacity="0.6" filter="url(#b2)"/>
<rect x="394" y="31.0" width="13" height="1.6" rx="0.8" fill="#888" opacity="0.5" filter="url(#b2)"/>
<rect x="391.5" y="37.75" width="15.5" height="4.5" rx="2.25" fill="#444" opacity="0.55" filter="url(#b1)"/>
<rect x="390.5" y="42.4" width="17.0" height="3.8" rx="1.9" fill="#0a0a0a" opacity="0.97" filter="url(#b2)"/>
<rect x="412" y="30.2" width="15.600000000000023" height="3.2" rx="1.6" fill="#0a0a0a" opacity="0.97" filter="url(#b2)"/>
<rect x="429.5" y="31.1" width="13.0" height="2.2" rx="1.1" fill="#555" opacity="0.7" filter="url(#b2)"/>
<rect x="412" y="42.4" width="16" height="3.2" rx="1.6" fill="#888" opacity="0.5" filter="url(#b1)"/>
<rect x="431" y="42.6" width="14" height="3.2" rx="1.6" fill="#777" opacity="0.55" filter="url(#b1)"/>
<rect x="448.5" y="31.4" width="14.0" height="1.8" rx="0.9" fill="#777" opacity="0.55" filter="url(#b2)"/>
<rect x="467" y="31.05" width="13" height="1.5" rx="0.75" fill="#999" opacity="0.4" filter="url(#b2)"/>
<rect x="448" y="37.7" width="33.5" height="4.6" rx="2.3" fill="#4a4a4a" opacity="0.75" filter="url(#b1)"/>
<rect x="449" y="43.5" width="15" height="2.0" rx="1.0" fill="#888" opacity="0.5" filter="url(#b1)"/>
<text x="486.2" y="33" font-size="4.8" font-weight="bold" text-anchor="start" fill="#1a1a1a" stroke="#1a1a1a" stroke-width="0.22">STAT5A/B</text>
<text x="486.2" y="44.5" font-size="4.8" font-weight="bold" text-anchor="start" fill="#1a1a1a" stroke="#1a1a1a" stroke-width="0.22">Actin</text>
<text x="486.2" y="55" font-size="4.8" font-weight="bold" text-anchor="start" fill="#1a1a1a" stroke="#1a1a1a" stroke-width="0.22">RNAi</text>
<text x="381.5" y="55" font-size="4.8" font-weight="bold" text-anchor="middle" fill="#1a1a1a" stroke="#1a1a1a" stroke-width="0.22">Renilla</text>
<text x="398.4" y="55" font-size="4.8" font-weight="bold" text-anchor="middle" fill="#1a1a1a" stroke="#1a1a1a" stroke-width="0.22">STAT5</text>
<text x="419.8" y="55" font-size="4.8" font-weight="bold" text-anchor="middle" fill="#1a1a1a" stroke="#1a1a1a" stroke-width="0.22">Renilla</text>
<text x="437.8" y="55" font-size="4.8" font-weight="bold" text-anchor="middle" fill="#1a1a1a" stroke="#1a1a1a" stroke-width="0.22">STAT5</text>
<text x="457.5" y="55" font-size="4.8" font-weight="bold" text-anchor="middle" fill="#1a1a1a" stroke="#1a1a1a" stroke-width="0.22">Renilla</text>
<text x="475.6" y="55" font-size="4.8" font-weight="bold" text-anchor="middle" fill="#1a1a1a" stroke="#1a1a1a" stroke-width="0.22">STAT5</text>
<line x1="374" y1="58.3" x2="479.5" y2="58.3" stroke="#c4c4c4" stroke-width="0.5"/>
<text x="430.5" y="64.8" font-size="4.8" font-weight="bold" text-anchor="middle" fill="#1a1a1a" stroke="#1a1a1a" stroke-width="0.22">RNAi</text>
<text x="1.6" y="98.6" font-size="12" font-weight="bold" text-anchor="start" fill="#000" stroke="#000" stroke-width="0.3">D</text>
<text x="47" y="102.7" font-size="6.0" font-weight="normal" text-anchor="middle" fill="#111" stroke="#111" stroke-width="0.1">CIS</text>
<line x1="23.1" y1="100.75" x2="23.1" y2="144.4" stroke="#555" stroke-width="0.5"/>
<line x1="23.1" y1="144.4" x2="71.1" y2="144.4" stroke="#555" stroke-width="0.5"/>
<line x1="21.900000000000002" y1="144.4" x2="23.1" y2="144.4" stroke="#555" stroke-width="0.4"/>
<text x="21.1" y="145.3" font-size="3.0" font-weight="normal" text-anchor="end" fill="#222" stroke="#222" stroke-width="0.12">0</text>
<line x1="21.900000000000002" y1="138.25" x2="23.1" y2="138.25" stroke="#555" stroke-width="0.4"/>
<text x="21.1" y="139.15" font-size="3.0" font-weight="normal" text-anchor="end" fill="#222" stroke="#222" stroke-width="0.12">20</text>
<line x1="21.900000000000002" y1="132.1" x2="23.1" y2="132.1" stroke="#555" stroke-width="0.4"/>
<text x="21.1" y="133.0" font-size="3.0" font-weight="normal" text-anchor="end" fill="#222" stroke="#222" stroke-width="0.12">40</text>
<line x1="21.900000000000002" y1="125.95" x2="23.1" y2="125.95" stroke="#555" stroke-width="0.4"/>
<text x="21.1" y="126.85" font-size="3.0" font-weight="normal" text-anchor="end" fill="#222" stroke="#222" stroke-width="0.12">60</text>
<line x1="21.900000000000002" y1="119.8" x2="23.1" y2="119.8" stroke="#555" stroke-width="0.4"/>
<text x="21.1" y="120.7" font-size="3.0" font-weight="normal" text-anchor="end" fill="#222" stroke="#222" stroke-width="0.12">80</text>
<line x1="21.900000000000002" y1="113.65" x2="23.1" y2="113.65" stroke="#555" stroke-width="0.4"/>
<text x="21.1" y="114.55" font-size="3.0" font-weight="normal" text-anchor="end" fill="#222" stroke="#222" stroke-width="0.12">100</text>
<line x1="21.900000000000002" y1="107.5" x2="23.1" y2="107.5" stroke="#555" stroke-width="0.4"/>
<text x="21.1" y="108.4" font-size="3.0" font-weight="normal" text-anchor="end" fill="#222" stroke="#222" stroke-width="0.12">120</text>
<line x1="21.900000000000002" y1="101.35" x2="23.1" y2="101.35" stroke="#555" stroke-width="0.4"/>
<text x="21.1" y="102.25" font-size="3.0" font-weight="normal" text-anchor="end" fill="#222" stroke="#222" stroke-width="0.12">140</text>
<text x="12.3" y="122.5" font-size="2.9" font-weight="normal" text-anchor="middle" fill="#222" transform="rotate(-90 12.3 122.5)" stroke="#222" stroke-width="0.12">relative mRNA expression</text>
<rect x="28.25" y="113.65" width="6.7" height="30.75" fill="#fff" stroke="#888" stroke-width="0.5"/>
<line x1="31.6" y1="113.65" x2="31.6" y2="108.12" stroke="#555" stroke-width="0.45"/>
<line x1="30.6" y1="108.12" x2="32.6" y2="108.12" stroke="#555" stroke-width="0.4"/>
<rect x="35.2" y="124.11" width="7.3" height="20.29" fill="#0c0c0c" stroke="none" stroke-width="0.5"/>
<line x1="38.85" y1="124.11" x2="38.85" y2="120.42" stroke="#555" stroke-width="0.45"/>
<line x1="37.85" y1="120.42" x2="39.85" y2="120.42" stroke="#555" stroke-width="0.4"/>
<rect x="52.25" y="113.65" width="6.5" height="30.75" fill="#fff" stroke="#888" stroke-width="0.5"/>
<line x1="55.5" y1="113.65" x2="55.5" y2="109.96" stroke="#555" stroke-width="0.45"/>
<line x1="54.5" y1="109.96" x2="56.5" y2="109.96" stroke="#555" stroke-width="0.4"/>
<rect x="59" y="124.11" width="7.3" height="20.29" fill="#0c0c0c" stroke="none" stroke-width="0.5"/>
<line x1="62.65" y1="124.11" x2="62.65" y2="122.73" stroke="#555" stroke-width="0.45"/>
<line x1="61.65" y1="122.73" x2="63.65" y2="122.73" stroke="#555" stroke-width="0.4"/>
<text x="34.6" y="152.3" font-size="4.1" font-weight="normal" text-anchor="middle" fill="#222" stroke="#222" stroke-width="0.1">TF1</text>
<text x="58.6" y="152.3" font-size="4.1" font-weight="normal" text-anchor="middle" fill="#222" stroke="#222" stroke-width="0.1">AML 16</text>
<text x="114.5" y="99.8" font-size="6.0" font-weight="normal" text-anchor="middle" fill="#111" stroke="#111" stroke-width="0.1">SOCS1</text>
<line x1="92.6" y1="100.30000000000001" x2="92.6" y2="144.4" stroke="#555" stroke-width="0.5"/>
<line x1="92.6" y1="144.4" x2="137.6" y2="144.4" stroke="#555" stroke-width="0.5"/>
<line x1="91.39999999999999" y1="144.4" x2="92.6" y2="144.4" stroke="#555" stroke-width="0.4"/>
<text x="90.6" y="145.3" font-size="3.0" font-weight="normal" text-anchor="end" fill="#222" stroke="#222" stroke-width="0.12">0</text>
<line x1="91.39999999999999" y1="137.15" x2="92.6" y2="137.15" stroke="#555" stroke-width="0.4"/>
<text x="90.6" y="138.05" font-size="3.0" font-weight="normal" text-anchor="end" fill="#222" stroke="#222" stroke-width="0.12">20</text>
<line x1="91.39999999999999" y1="129.9" x2="92.6" y2="129.9" stroke="#555" stroke-width="0.4"/>
<text x="90.6" y="130.8" font-size="3.0" font-weight="normal" text-anchor="end" fill="#222" stroke="#222" stroke-width="0.12">40</text>
<line x1="91.39999999999999" y1="122.65" x2="92.6" y2="122.65" stroke="#555" stroke-width="0.4"/>
<text x="90.6" y="123.55" font-size="3.0" font-weight="normal" text-anchor="end" fill="#222" stroke="#222" stroke-width="0.12">60</text>
<line x1="91.39999999999999" y1="115.4" x2="92.6" y2="115.4" stroke="#555" stroke-width="0.4"/>
<text x="90.6" y="116.3" font-size="3.0" font-weight="normal" text-anchor="end" fill="#222" stroke="#222" stroke-width="0.12">80</text>
<line x1="91.39999999999999" y1="108.15" x2="92.6" y2="108.15" stroke="#555" stroke-width="0.4"/>
<text x="90.6" y="109.05" font-size="3.0" font-weight="normal" text-anchor="end" fill="#222" stroke="#222" stroke-width="0.12">100</text>
<line x1="91.39999999999999" y1="100.9" x2="92.6" y2="100.9" stroke="#555" stroke-width="0.4"/>
<text x="90.6" y="101.8" font-size="3.0" font-weight="normal" text-anchor="end" fill="#222" stroke="#222" stroke-width="0.12">120</text>
<text x="80.6" y="122.5" font-size="2.9" font-weight="normal" text-anchor="middle" fill="#222" transform="rotate(-90 80.6 122.5)" stroke="#222" stroke-width="0.12">relative mRNA expression</text>
<rect x="96.55" y="107.79" width="6.5" height="36.61" fill="#fff" stroke="#888" stroke-width="0.5"/>
<line x1="99.8" y1="107.79" x2="99.8" y2="102.72" stroke="#555" stroke-width="0.45"/>
<line x1="98.8" y1="102.72" x2="100.8" y2="102.72" stroke="#555" stroke-width="0.4"/>
<rect x="103.3" y="122.65" width="7" height="21.75" fill="#0c0c0c" stroke="none" stroke-width="0.5"/>
<line x1="106.8" y1="122.65" x2="106.8" y2="119.03" stroke="#555" stroke-width="0.45"/>
<line x1="105.8" y1="119.03" x2="107.8" y2="119.03" stroke="#555" stroke-width="0.4"/>
<rect x="119.05" y="107.79" width="6.5" height="36.61" fill="#fff" stroke="#888" stroke-width="0.5"/>
<line x1="122.3" y1="107.79" x2="122.3" y2="104.17" stroke="#555" stroke-width="0.45"/>
<line x1="121.3" y1="104.17" x2="123.3" y2="104.17" stroke="#555" stroke-width="0.4"/>
<rect x="125.8" y="130.26" width="7" height="14.14" fill="#0c0c0c" stroke="none" stroke-width="0.5"/>
<line x1="129.3" y1="130.26" x2="129.3" y2="129.17" stroke="#555" stroke-width="0.45"/>
<line x1="128.3" y1="129.17" x2="130.3" y2="129.17" stroke="#555" stroke-width="0.4"/>
<text x="101.5" y="152.3" font-size="4.1" font-weight="normal" text-anchor="middle" fill="#222" stroke="#222" stroke-width="0.1">TF1</text>
<text x="125.8" y="152.3" font-size="4.1" font-weight="normal" text-anchor="middle" fill="#222" stroke="#222" stroke-width="0.1">AML 16</text>
<text x="177" y="99" font-size="6.0" font-weight="normal" text-anchor="middle" fill="#111" stroke="#111" stroke-width="0.1">SOCS2</text>
<line x1="157.2" y1="100.30000000000001" x2="157.2" y2="144.4" stroke="#555" stroke-width="0.5"/>
<line x1="157.2" y1="144.4" x2="203.2" y2="144.4" stroke="#555" stroke-width="0.5"/>
<line x1="156.0" y1="144.4" x2="157.2" y2="144.4" stroke="#555" stroke-width="0.4"/>
<text x="155.2" y="145.3" font-size="3.0" font-weight="normal" text-anchor="end" fill="#222" stroke="#222" stroke-width="0.12">0</text>
<line x1="156.0" y1="137.15" x2="157.2" y2="137.15" stroke="#555" stroke-width="0.4"/>
<text x="155.2" y="138.05" font-size="3.0" font-weight="normal" text-anchor="end" fill="#222" stroke="#222" stroke-width="0.12">20</text>
<line x1="156.0" y1="129.9" x2="157.2" y2="129.9" stroke="#555" stroke-width="0.4"/>
<text x="155.2" y="130.8" font-size="3.0" font-weight="normal" text-anchor="end" fill="#222" stroke="#222" stroke-width="0.12">40</text>
<line x1="156.0" y1="122.65" x2="157.2" y2="122.65" stroke="#555" stroke-width="0.4"/>
<text x="155.2" y="123.55" font-size="3.0" font-weight="normal" text-anchor="end" fill="#222" stroke="#222" stroke-width="0.12">60</text>
<line x1="156.0" y1="115.4" x2="157.2" y2="115.4" stroke="#555" stroke-width="0.4"/>
<text x="155.2" y="116.3" font-size="3.0" font-weight="normal" text-anchor="end" fill="#222" stroke="#222" stroke-width="0.12">80</text>
<line x1="156.0" y1="108.15" x2="157.2" y2="108.15" stroke="#555" stroke-width="0.4"/>
<text x="155.2" y="109.05" font-size="3.0" font-weight="normal" text-anchor="end" fill="#222" stroke="#222" stroke-width="0.12">100</text>
<line x1="156.0" y1="100.9" x2="157.2" y2="100.9" stroke="#555" stroke-width="0.4"/>
<text x="155.2" y="101.8" font-size="3.0" font-weight="normal" text-anchor="end" fill="#222" stroke="#222" stroke-width="0.12">120</text>
<text x="145.2" y="122.5" font-size="2.9" font-weight="normal" text-anchor="middle" fill="#222" transform="rotate(-90 145.2 122.5)" stroke="#222" stroke-width="0.12">relative mRNA expression</text>
<rect x="162.75" y="107.79" width="6.5" height="36.61" fill="#fff" stroke="#888" stroke-width="0.5"/>
<line x1="166.0" y1="107.79" x2="166.0" y2="102.72" stroke="#555" stroke-width="0.45"/>
<line x1="165.0" y1="102.72" x2="167.0" y2="102.72" stroke="#555" stroke-width="0.4"/>
<rect x="169.5" y="116.85" width="7.2" height="27.55" fill="#0c0c0c" stroke="none" stroke-width="0.5"/>
<line x1="173.1" y1="116.85" x2="173.1" y2="112.5" stroke="#555" stroke-width="0.45"/>
<line x1="172.1" y1="112.5" x2="174.1" y2="112.5" stroke="#555" stroke-width="0.4"/>
<rect x="186.45" y="107.79" width="6.4" height="36.61" fill="#fff" stroke="#888" stroke-width="0.5"/>
<line x1="189.64999999999998" y1="107.79" x2="189.64999999999998" y2="105.25" stroke="#555" stroke-width="0.45"/>
<line x1="188.64999999999998" y1="105.25" x2="190.64999999999998" y2="105.25" stroke="#555" stroke-width="0.4"/>
<rect x="193.1" y="120.11" width="7" height="24.29" fill="#0c0c0c" stroke="none" stroke-width="0.5"/>
<line x1="196.6" y1="120.11" x2="196.6" y2="115.58" stroke="#555" stroke-width="0.45"/>
<line x1="195.6" y1="115.58" x2="197.6" y2="115.58" stroke="#555" stroke-width="0.4"/>
<text x="169.5" y="152.3" font-size="4.1" font-weight="normal" text-anchor="middle" fill="#222" stroke="#222" stroke-width="0.1">TF1</text>
<text x="193.5" y="152.3" font-size="4.1" font-weight="normal" text-anchor="middle" fill="#222" stroke="#222" stroke-width="0.1">AML 16</text>
<rect x="204.6" y="98.6" width="4.2" height="3.6" fill="#fff" stroke="#333" stroke-width="0.5"/>
<rect x="204.4" y="104.2" width="4.6" height="4" fill="#111" stroke="none" stroke-width="0.5"/>
<text x="212" y="102.6" font-size="5" font-weight="normal" text-anchor="start" fill="#111" stroke="#111" stroke-width="0.1">Renilla RNAi</text>
<text x="212" y="108.6" font-size="5" font-weight="normal" text-anchor="start" fill="#111" stroke="#111" stroke-width="0.1">STAT5 RNAi</text>
<text x="1.3" y="177.3" font-size="12" font-weight="bold" text-anchor="start" fill="#000" stroke="#000" stroke-width="0.3">F</text>
<line x1="17.7" y1="180.5" x2="17.7" y2="241.8" stroke="#777" stroke-width="0.5"/>
<line x1="17.7" y1="241.8" x2="114.5" y2="241.8" stroke="#777" stroke-width="0.5"/>
<line x1="16.5" y1="181.5" x2="17.7" y2="181.5" stroke="#555" stroke-width="0.4"/>
<text x="14.2" y="183.0" font-size="4.3" font-weight="bold" text-anchor="end" fill="#1a1a1a" stroke="#1a1a1a" stroke-width="0.22">1.2</text>
<line x1="16.5" y1="196.58" x2="17.7" y2="196.58" stroke="#555" stroke-width="0.4"/>
<text x="14.2" y="198.08" font-size="4.3" font-weight="bold" text-anchor="end" fill="#1a1a1a" stroke="#1a1a1a" stroke-width="0.22">1.0</text>
<line x1="16.5" y1="211.66" x2="17.7" y2="211.66" stroke="#555" stroke-width="0.4"/>
<text x="14.2" y="213.16" font-size="4.3" font-weight="bold" text-anchor="end" fill="#1a1a1a" stroke="#1a1a1a" stroke-width="0.22">.8</text>
<line x1="16.5" y1="226.74" x2="17.7" y2="226.74" stroke="#555" stroke-width="0.4"/>
<text x="14.2" y="228.24" font-size="4.3" font-weight="bold" text-anchor="end" fill="#1a1a1a" stroke="#1a1a1a" stroke-width="0.22">.6</text>
<line x1="16.5" y1="241.82" x2="17.7" y2="241.82" stroke="#555" stroke-width="0.4"/>
<text x="14.2" y="243.32" font-size="4.3" font-weight="bold" text-anchor="end" fill="#1a1a1a" stroke="#1a1a1a" stroke-width="0.22">.4</text>
<text x="26.5" y="248.2" font-size="4.3" font-weight="bold" text-anchor="middle" fill="#1a1a1a" stroke="#1a1a1a" stroke-width="0.22">1</text>
<line x1="26.5" y1="241.8" x2="26.5" y2="243" stroke="#555" stroke-width="0.4"/>
<text x="42.3" y="248.2" font-size="4.3" font-weight="bold" text-anchor="middle" fill="#1a1a1a" stroke="#1a1a1a" stroke-width="0.22">2</text>
<line x1="42.3" y1="241.8" x2="42.3" y2="243" stroke="#555" stroke-width="0.4"/>
<text x="58.7" y="248.2" font-size="4.3" font-weight="bold" text-anchor="middle" fill="#1a1a1a" stroke="#1a1a1a" stroke-width="0.22">3</text>
<line x1="58.7" y1="241.8" x2="58.7" y2="243" stroke="#555" stroke-width="0.4"/>
<text x="75" y="248.2" font-size="4.3" font-weight="bold" text-anchor="middle" fill="#1a1a1a" stroke="#1a1a1a" stroke-width="0.22">4</text>
<line x1="75" y1="241.8" x2="75" y2="243" stroke="#555" stroke-width="0.4"/>
<text x="91.3" y="248.2" font-size="4.3" font-weight="bold" text-anchor="middle" fill="#1a1a1a" stroke="#1a1a1a" stroke-width="0.22">5</text>
<line x1="91.3" y1="241.8" x2="91.3" y2="243" stroke="#555" stroke-width="0.4"/>
<text x="107.7" y="248.2" font-size="4.3" font-weight="bold" text-anchor="middle" fill="#1a1a1a" stroke="#1a1a1a" stroke-width="0.22">6</text>
<line x1="107.7" y1="241.8" x2="107.7" y2="243" stroke="#555" stroke-width="0.4"/>
<text x="66" y="254.6" font-size="4.3" font-weight="bold" text-anchor="middle" fill="#1a1a1a" stroke="#1a1a1a" stroke-width="0.22">Week</text>
<text x="6.6" y="209.3" font-size="4.62" font-weight="bold" text-anchor="middle" fill="#1a1a1a" transform="rotate(-90 6.6 209.3)" stroke="#1a1a1a" stroke-width="0.22">Relative YFP or GFP values</text>
<path d="M26.5,197.25 C27.08,197.41 28.75,197.88 30,198.2 C31.25,198.52 32.67,198.88 34,199.2 C35.33,199.52 36.63,199.80 38,200.1 C39.37,200.40 40.20,200.57 42.2,201 C44.20,201.43 47.24,202.18 50,202.7 C52.76,203.22 55.92,203.67 58.75,204.1 C61.58,204.53 64.29,204.93 67,205.3 C69.71,205.67 72.33,205.98 75,206.3 C77.67,206.62 80.29,206.93 83,207.2 C85.71,207.47 88.42,207.67 91.25,207.9 C94.08,208.13 97.24,208.40 100,208.6 C102.76,208.80 105.47,208.97 107.8,209.1 C110.13,209.23 112.97,209.35 114,209.4" fill="none" stroke="#222" stroke-width="0.9"/>
<path d="M26.5,197.25 C26.75,197.62 27.42,198.71 28,199.5 C28.58,200.29 29.17,201.08 30,202 C30.83,202.92 31.83,203.95 33,205 C34.17,206.05 35.47,207.25 37,208.3 C38.53,209.35 40.03,210.13 42.2,211.3 C44.37,212.47 47.24,214.05 50,215.3 C52.76,216.55 55.92,217.77 58.75,218.8 C61.58,219.83 64.29,220.67 67,221.5 C69.71,222.33 72.33,223.08 75,223.8 C77.67,224.52 80.29,225.17 83,225.8 C85.71,226.43 88.42,227.02 91.25,227.6 C94.08,228.18 97.24,228.78 100,229.3 C102.76,229.82 105.47,230.32 107.8,230.7 C110.13,231.08 112.97,231.45 114,231.6" fill="none" stroke="#222" stroke-width="0.9"/>
<line x1="26.5" y1="187" x2="26.5" y2="205.7" stroke="#888" stroke-width="0.5" stroke-dasharray="1.6 0.4"/>
<line x1="25.5" y1="187" x2="27.5" y2="187" stroke="#777" stroke-width="0.4"/>
<line x1="25.5" y1="205.7" x2="27.5" y2="205.7" stroke="#777" stroke-width="0.4"/>
<line x1="42.3" y1="193" x2="42.3" y2="212" stroke="#888" stroke-width="0.5" stroke-dasharray="1.6 0.4"/>
<line x1="41.3" y1="193" x2="43.3" y2="193" stroke="#777" stroke-width="0.4"/>
<line x1="41.3" y1="212" x2="43.3" y2="212" stroke="#777" stroke-width="0.4"/>
<line x1="58.7" y1="198.5" x2="58.7" y2="212" stroke="#888" stroke-width="0.5" stroke-dasharray="1.6 0.4"/>
<line x1="57.7" y1="198.5" x2="59.7" y2="198.5" stroke="#777" stroke-width="0.4"/>
<line x1="57.7" y1="212" x2="59.7" y2="212" stroke="#777" stroke-width="0.4"/>
<line x1="75" y1="193" x2="75" y2="216.6" stroke="#888" stroke-width="0.5" stroke-dasharray="1.6 0.4"/>
<line x1="74" y1="193" x2="76" y2="193" stroke="#777" stroke-width="0.4"/>
<line x1="74" y1="216.6" x2="76" y2="216.6" stroke="#777" stroke-width="0.4"/>
<line x1="91.3" y1="195.4" x2="91.3" y2="223" stroke="#888" stroke-width="0.5" stroke-dasharray="1.6 0.4"/>
<line x1="90.3" y1="195.4" x2="92.3" y2="195.4" stroke="#777" stroke-width="0.4"/>
<line x1="90.3" y1="223" x2="92.3" y2="223" stroke="#777" stroke-width="0.4"/>
<line x1="107.7" y1="202.5" x2="107.7" y2="219.75" stroke="#888" stroke-width="0.5" stroke-dasharray="1.6 0.4"/>
<line x1="106.7" y1="202.5" x2="108.7" y2="202.5" stroke="#777" stroke-width="0.4"/>
<line x1="106.7" y1="219.75" x2="108.7" y2="219.75" stroke="#777" stroke-width="0.4"/>
<line x1="42.599999999999994" y1="208.8" x2="42.599999999999994" y2="216.6" stroke="#555" stroke-width="0.5" stroke-dasharray="1.2 0.6"/>
<line x1="41.5" y1="208.8" x2="43.5" y2="208.8" stroke="#555" stroke-width="0.4"/>
<line x1="59.0" y1="213.5" x2="59.0" y2="221" stroke="#555" stroke-width="0.5" stroke-dasharray="1.2 0.6"/>
<line x1="57.900000000000006" y1="213.5" x2="59.900000000000006" y2="213.5" stroke="#555" stroke-width="0.4"/>
<line x1="75.3" y1="210" x2="75.3" y2="220" stroke="#555" stroke-width="0.5" stroke-dasharray="1.2 0.6"/>
<line x1="74.2" y1="210" x2="76.2" y2="210" stroke="#555" stroke-width="0.4"/>
<line x1="91.6" y1="210" x2="91.6" y2="227.5" stroke="#555" stroke-width="0.5" stroke-dasharray="1.2 0.6"/>
<line x1="90.5" y1="210" x2="92.5" y2="210" stroke="#555" stroke-width="0.4"/>
<line x1="108.0" y1="223" x2="108.0" y2="234" stroke="#555" stroke-width="0.5" stroke-dasharray="1.2 0.6"/>
<line x1="106.9" y1="223" x2="108.9" y2="223" stroke="#555" stroke-width="0.4"/>
<polygon points="26.5,195.65 24.9,198.53 28.1,198.53" fill="#fff" stroke="#888" stroke-width="0.45"/>
<polygon points="42.3,201.9 40.7,204.78 43.9,204.78" fill="#fff" stroke="#888" stroke-width="0.45"/>
<polygon points="58.7,204.7 57.1,207.58 60.3,207.58" fill="#fff" stroke="#888" stroke-width="0.45"/>
<polygon points="75,203.4 73.4,206.28 76.6,206.28" fill="#fff" stroke="#888" stroke-width="0.45"/>
<polygon points="91.3,205.65 89.7,208.53 92.9,208.53" fill="#fff" stroke="#888" stroke-width="0.45"/>
<polygon points="107.7,210.4 106.1,213.28 109.3,213.28" fill="#fff" stroke="#888" stroke-width="0.45"/>
<polygon points="26.5,195.35 24.6,198.77 28.4,198.77" fill="#111" stroke="none" stroke-width="0.5"/>
<polygon points="42.3,214.1 40.4,217.52 44.2,217.52" fill="#111" stroke="none" stroke-width="0.5"/>
<polygon points="58.7,218.5 56.8,221.92 60.6,221.92" fill="#111" stroke="none" stroke-width="0.5"/>
<polygon points="75,217.85 73.1,221.27 76.9,221.27" fill="#111" stroke="none" stroke-width="0.5"/>
<polygon points="91.3,221.6 89.4,225.02 93.2,225.02" fill="#111" stroke="none" stroke-width="0.5"/>
<polygon points="107.7,231.0 105.8,234.42 109.6,234.42" fill="#111" stroke="none" stroke-width="0.5"/>
<line x1="20.2" y1="227.2" x2="28.8" y2="227.2" stroke="#aaa" stroke-width="0.6" stroke-dasharray="2 1.5"/>
<polygon points="24.5,225.7 23.0,228.4 26.0,228.4" fill="#fff" stroke="#bbb" stroke-width="0.4"/>
<text x="31.9" y="228.7" font-size="4.5" font-weight="bold" text-anchor="start" fill="#1a1a1a" stroke="#1a1a1a" stroke-width="0.22">Renilla RNAi</text>
<line x1="21" y1="236.7" x2="28" y2="236.7" stroke="#888" stroke-width="0.5"/>
<polygon points="24.6,233.6 21.9,237.4 27.3,237.4" fill="#111"/>
<text x="31.9" y="238" font-size="4.5" font-weight="bold" text-anchor="start" fill="#1a1a1a" stroke="#1a1a1a" stroke-width="0.22">STAT5 RNAi</text>
<text x="121.6" y="177.3" font-size="12" font-weight="bold" text-anchor="start" fill="#000" stroke="#000" stroke-width="0.3">G</text>
<line x1="145.4" y1="173.5" x2="145.4" y2="236.5" stroke="#aaa" stroke-width="0.5"/>
<line x1="145.4" y1="236.5" x2="250" y2="236.5" stroke="#aaa" stroke-width="0.5"/>
<line x1="144.1" y1="236.5" x2="145.4" y2="236.5" stroke="#555" stroke-width="0.4"/>
<text x="144.0" y="238.0" font-size="4.3" font-weight="bold" text-anchor="end" fill="#1a1a1a" stroke="#1a1a1a" stroke-width="0.22">0</text>
<line x1="144.1" y1="224.4" x2="145.4" y2="224.4" stroke="#555" stroke-width="0.4"/>
<text x="144.0" y="225.9" font-size="4.3" font-weight="bold" text-anchor="end" fill="#1a1a1a" stroke="#1a1a1a" stroke-width="0.22">50</text>
<line x1="144.1" y1="212.3" x2="145.4" y2="212.3" stroke="#555" stroke-width="0.4"/>
<text x="144.0" y="213.8" font-size="4.3" font-weight="bold" text-anchor="end" fill="#1a1a1a" stroke="#1a1a1a" stroke-width="0.22">100</text>
<line x1="144.1" y1="200.2" x2="145.4" y2="200.2" stroke="#555" stroke-width="0.4"/>
<text x="144.0" y="201.7" font-size="4.3" font-weight="bold" text-anchor="end" fill="#1a1a1a" stroke="#1a1a1a" stroke-width="0.22">150</text>
<line x1="144.1" y1="188.1" x2="145.4" y2="188.1" stroke="#555" stroke-width="0.4"/>
<text x="144.0" y="189.6" font-size="4.3" font-weight="bold" text-anchor="end" fill="#1a1a1a" stroke="#1a1a1a" stroke-width="0.22">200</text>
<line x1="144.1" y1="176.0" x2="145.4" y2="176.0" stroke="#555" stroke-width="0.4"/>
<text x="144.0" y="177.5" font-size="4.3" font-weight="bold" text-anchor="end" fill="#1a1a1a" stroke="#1a1a1a" stroke-width="0.22">250</text>
<line x1="153.4" y1="236.5" x2="153.4" y2="237.8" stroke="#555" stroke-width="0.4"/>
<text x="153.4" y="243.1" font-size="4.3" font-weight="bold" text-anchor="middle" fill="#1a1a1a" stroke="#1a1a1a" stroke-width="0.22">0</text>
<line x1="168.2" y1="236.5" x2="168.2" y2="237.8" stroke="#555" stroke-width="0.4"/>
<text x="168.2" y="243.1" font-size="4.3" font-weight="bold" text-anchor="middle" fill="#1a1a1a" stroke="#1a1a1a" stroke-width="0.22">1</text>
<line x1="183.3" y1="236.5" x2="183.3" y2="237.8" stroke="#555" stroke-width="0.4"/>
<text x="183.3" y="243.1" font-size="4.3" font-weight="bold" text-anchor="middle" fill="#1a1a1a" stroke="#1a1a1a" stroke-width="0.22">2</text>
<line x1="198.1" y1="236.5" x2="198.1" y2="237.8" stroke="#555" stroke-width="0.4"/>
<text x="198.1" y="243.1" font-size="4.3" font-weight="bold" text-anchor="middle" fill="#1a1a1a" stroke="#1a1a1a" stroke-width="0.22">3</text>
<line x1="212.9" y1="236.5" x2="212.9" y2="237.8" stroke="#555" stroke-width="0.4"/>
<text x="212.9" y="243.1" font-size="4.3" font-weight="bold" text-anchor="middle" fill="#1a1a1a" stroke="#1a1a1a" stroke-width="0.22">4</text>
<line x1="228" y1="236.5" x2="228" y2="237.8" stroke="#555" stroke-width="0.4"/>
<text x="228" y="243.1" font-size="4.3" font-weight="bold" text-anchor="middle" fill="#1a1a1a" stroke="#1a1a1a" stroke-width="0.22">5</text>
<line x1="242.8" y1="236.5" x2="242.8" y2="237.8" stroke="#555" stroke-width="0.4"/>
<text x="242.8" y="243.1" font-size="4.3" font-weight="bold" text-anchor="middle" fill="#1a1a1a" stroke="#1a1a1a" stroke-width="0.22">6</text>
<text x="195.3" y="249.6" font-size="4.3" font-weight="bold" text-anchor="middle" fill="#1a1a1a" stroke="#1a1a1a" stroke-width="0.22">Week</text>
<text x="127.6" y="203.4" font-size="4.62" font-weight="bold" text-anchor="middle" fill="#1a1a1a" transform="rotate(-90 127.6 203.4)" stroke="#1a1a1a" stroke-width="0.22">Averaged expansion</text>
<line x1="151" y1="179.3" x2="160.5" y2="179.3" stroke="#aaa" stroke-width="0.6" stroke-dasharray="2 1.5"/>
<polygon points="155.75,177.8 154.25,180.5 157.25,180.5" fill="#fff" stroke="#aaa" stroke-width="0.4"/>
<text x="162.8" y="180.8" font-size="4.5" font-weight="bold" text-anchor="start" fill="#1a1a1a" stroke="#1a1a1a" stroke-width="0.22">Renilla RNAi</text>
<line x1="151" y1="187.6" x2="160.5" y2="187.6" stroke="#888" stroke-width="0.5"/>
<polygon points="155.75,185.0 153.05,188.8 158.45,188.8" fill="#111"/>
<text x="162.8" y="189.0" font-size="4.5" font-weight="bold" text-anchor="start" fill="#1a1a1a" stroke="#1a1a1a" stroke-width="0.22">STAT5 RNAi</text>
<polyline points="153.4,236.02 168.2,235.77 183.3,235.05 198.1,231.66 212.9,224.4 228,203.35 242.8,215.93" fill="none" stroke="#d4d4d4" stroke-width="0.7"/>
<polyline points="153.4,236.02 168.2,235.77 183.3,235.29 198.1,234.08 212.9,228.03 228,225.61 242.8,231.9" fill="none" stroke="#c0c0c0" stroke-width="0.7"/>
<line x1="212.9" y1="224.4" x2="212.9" y2="216.66" stroke="#ccc" stroke-width="0.6"/>
<line x1="228" y1="203.35" x2="228" y2="187.13" stroke="#ccc" stroke-width="0.6"/>
<line x1="242.8" y1="215.93" x2="242.8" y2="202.14" stroke="#ccc" stroke-width="0.6"/>
<line x1="228" y1="225.61" x2="228" y2="218.83" stroke="#bbb" stroke-width="0.6"/>
<line x1="242.8" y1="231.9" x2="242.8" y2="228.03" stroke="#bbb" stroke-width="0.6"/>
<polygon points="153.4,234.52 151.9,237.22 154.9,237.22" fill="#fff" stroke="#d4d4d4" stroke-width="0.45"/>
<polygon points="168.2,234.27 166.7,236.97 169.7,236.97" fill="#fff" stroke="#d4d4d4" stroke-width="0.45"/>
<polygon points="183.3,233.55 181.8,236.25 184.8,236.25" fill="#fff" stroke="#d4d4d4" stroke-width="0.45"/>
<polygon points="198.1,230.16 196.6,232.86 199.6,232.86" fill="#fff" stroke="#d4d4d4" stroke-width="0.45"/>
<polygon points="212.9,222.9 211.4,225.6 214.4,225.6" fill="#fff" stroke="#d4d4d4" stroke-width="0.45"/>
<polygon points="228,201.85 226.5,204.55 229.5,204.55" fill="#fff" stroke="#d4d4d4" stroke-width="0.45"/>
<polygon points="242.8,214.43 241.3,217.13 244.3,217.13" fill="#fff" stroke="#d4d4d4" stroke-width="0.45"/>
<polygon points="153.4,234.72 152.1,237.06 154.7,237.06" fill="#111" stroke="none" stroke-width="0.5"/>
<polygon points="168.2,234.47 166.9,236.81 169.5,236.81" fill="#111" stroke="none" stroke-width="0.5"/>
<polygon points="183.3,233.99 182.0,236.33 184.6,236.33" fill="#111" stroke="none" stroke-width="0.5"/>
<polygon points="198.1,232.78 196.8,235.12 199.4,235.12" fill="#111" stroke="none" stroke-width="0.5"/>
<polygon points="212.9,226.73 211.6,229.07 214.2,229.07" fill="#111" stroke="none" stroke-width="0.5"/>
<polygon points="228,224.31 226.7,226.65 229.3,226.65" fill="#111" stroke="none" stroke-width="0.5"/>
<polygon points="242.8,230.6 241.5,232.94 244.1,232.94" fill="#111" stroke="none" stroke-width="0.5"/>
<text x="248" y="219.1" font-size="4.3" font-weight="bold" text-anchor="start" fill="#1a1a1a" stroke="#1a1a1a" stroke-width="0.22">80x</text>
<text x="248" y="234.5" font-size="4.3" font-weight="bold" text-anchor="start" fill="#1a1a1a" stroke="#1a1a1a" stroke-width="0.22">17x</text>
<text x="255.8" y="77" font-size="12" font-weight="bold" text-anchor="start" fill="#000" stroke="#000" stroke-width="0.3">E</text>
<line x1="289.2" y1="82" x2="289.2" y2="154.1" stroke="#666" stroke-width="0.5"/>
<line x1="289.2" y1="154.1" x2="393" y2="154.1" stroke="#666" stroke-width="0.5"/>
<line x1="287.9" y1="154.1" x2="289.2" y2="154.1" stroke="#555" stroke-width="0.4"/>
<text x="286.2" y="155.6" font-size="4.3" font-weight="bold" text-anchor="end" fill="#1a1a1a" stroke="#1a1a1a" stroke-width="0.22">0</text>
<line x1="287.9" y1="136.65" x2="289.2" y2="136.65" stroke="#555" stroke-width="0.4"/>
<text x="286.2" y="138.15" font-size="4.3" font-weight="bold" text-anchor="end" fill="#1a1a1a" stroke="#1a1a1a" stroke-width="0.22">1000</text>
<line x1="287.9" y1="119.2" x2="289.2" y2="119.2" stroke="#555" stroke-width="0.4"/>
<text x="286.2" y="120.7" font-size="4.3" font-weight="bold" text-anchor="end" fill="#1a1a1a" stroke="#1a1a1a" stroke-width="0.22">2000</text>
<line x1="287.9" y1="101.75" x2="289.2" y2="101.75" stroke="#555" stroke-width="0.4"/>
<text x="286.2" y="103.25" font-size="4.3" font-weight="bold" text-anchor="end" fill="#1a1a1a" stroke="#1a1a1a" stroke-width="0.22">3000</text>
<line x1="287.9" y1="84.3" x2="289.2" y2="84.3" stroke="#555" stroke-width="0.4"/>
<text x="286.2" y="85.8" font-size="4.3" font-weight="bold" text-anchor="end" fill="#1a1a1a" stroke="#1a1a1a" stroke-width="0.22">4000</text>
<line x1="295.7" y1="154.1" x2="295.7" y2="155.4" stroke="#555" stroke-width="0.4"/>
<text x="295.7" y="160.8" font-size="4.3" font-weight="bold" text-anchor="middle" fill="#1a1a1a" stroke="#1a1a1a" stroke-width="0.22">0</text>
<line x1="310.7" y1="154.1" x2="310.7" y2="155.4" stroke="#555" stroke-width="0.4"/>
<text x="310.7" y="160.8" font-size="4.3" font-weight="bold" text-anchor="middle" fill="#1a1a1a" stroke="#1a1a1a" stroke-width="0.22">1</text>
<line x1="325.2" y1="154.1" x2="325.2" y2="155.4" stroke="#555" stroke-width="0.4"/>
<text x="325.2" y="160.8" font-size="4.3" font-weight="bold" text-anchor="middle" fill="#1a1a1a" stroke="#1a1a1a" stroke-width="0.22">2</text>
<line x1="340" y1="154.1" x2="340" y2="155.4" stroke="#555" stroke-width="0.4"/>
<text x="340" y="160.8" font-size="4.3" font-weight="bold" text-anchor="middle" fill="#1a1a1a" stroke="#1a1a1a" stroke-width="0.22">3</text>
<line x1="354.6" y1="154.1" x2="354.6" y2="155.4" stroke="#555" stroke-width="0.4"/>
<text x="354.6" y="160.8" font-size="4.3" font-weight="bold" text-anchor="middle" fill="#1a1a1a" stroke="#1a1a1a" stroke-width="0.22">4</text>
<line x1="369.6" y1="154.1" x2="369.6" y2="155.4" stroke="#555" stroke-width="0.4"/>
<text x="369.6" y="160.8" font-size="4.3" font-weight="bold" text-anchor="middle" fill="#1a1a1a" stroke="#1a1a1a" stroke-width="0.22">5</text>
<line x1="384.2" y1="154.1" x2="384.2" y2="155.4" stroke="#555" stroke-width="0.4"/>
<text x="384.2" y="160.8" font-size="4.3" font-weight="bold" text-anchor="middle" fill="#1a1a1a" stroke="#1a1a1a" stroke-width="0.22">6</text>
<text x="336.8" y="168" font-size="4.3" font-weight="bold" text-anchor="middle" fill="#1a1a1a" stroke="#1a1a1a" stroke-width="0.22">Week</text>
<text x="352.5" y="78.5" font-size="4.3" font-weight="bold" text-anchor="middle" fill="#1a1a1a" stroke="#1a1a1a" stroke-width="0.22">AML 9</text>
<text x="272.6" y="114.4" font-size="4.8" font-weight="bold" text-anchor="middle" fill="#1a1a1a" transform="rotate(-90 272.6 114.4)" stroke="#1a1a1a" stroke-width="0.22">Normalized Cum. Cell Number (x 1000)</text>
<line x1="293.3" y1="86.3" x2="303.8" y2="86.3" stroke="#aaa" stroke-width="0.6" stroke-dasharray="2 1.5"/>
<polygon points="298.55,84.8 297.05,87.5 300.05,87.5" fill="#fff" stroke="#aaa" stroke-width="0.4"/>
<text x="306.2" y="87.8" font-size="4.5" font-weight="bold" text-anchor="start" fill="#1a1a1a" stroke="#1a1a1a" stroke-width="0.22">Renilla RNAi</text>
<line x1="293.3" y1="96.1" x2="303.8" y2="96.1" stroke="#888" stroke-width="0.5"/>
<polygon points="298.55,93.5 295.85,97.3 301.25,97.3" fill="#111"/>
<text x="306.2" y="97.5" font-size="4.5" font-weight="bold" text-anchor="start" fill="#1a1a1a" stroke="#1a1a1a" stroke-width="0.22">STAT5 RNAi</text>
<polyline points="295.7,154.1 310.7,153.93 325.2,153.23 340,149.21 354.6,130.89 369.6,101.75 384.2,116.76" fill="none" stroke="#888" stroke-width="0.7"/>
<polyline points="295.7,154.1 310.7,154.01 325.2,153.58 340,151.66 354.6,136.21 369.6,150.44 384.2,151.66" fill="none" stroke="#444" stroke-width="0.7"/>
<polygon points="295.7,152.6 294.2,155.3 297.2,155.3" fill="#fff" stroke="#999" stroke-width="0.45"/>
<polygon points="310.7,152.43 309.2,155.13 312.2,155.13" fill="#fff" stroke="#999" stroke-width="0.45"/>
<polygon points="325.2,151.73 323.7,154.43 326.7,154.43" fill="#fff" stroke="#999" stroke-width="0.45"/>
<polygon points="340,147.71 338.5,150.41 341.5,150.41" fill="#fff" stroke="#999" stroke-width="0.45"/>
<polygon points="354.6,129.39 353.1,132.09 356.1,132.09" fill="#fff" stroke="#999" stroke-width="0.45"/>
<polygon points="369.6,100.25 368.1,102.95 371.1,102.95" fill="#fff" stroke="#999" stroke-width="0.45"/>
<polygon points="384.2,115.26 382.7,117.96 385.7,117.96" fill="#fff" stroke="#999" stroke-width="0.45"/>
<polygon points="295.7,152.55 294.15,155.34 297.25,155.34" fill="#111" stroke="none" stroke-width="0.5"/>
<polygon points="310.7,152.46 309.15,155.25 312.25,155.25" fill="#111" stroke="none" stroke-width="0.5"/>
<polygon points="325.2,152.03 323.65,154.82 326.75,154.82" fill="#111" stroke="none" stroke-width="0.5"/>
<polygon points="340,150.11 338.45,152.9 341.55,152.9" fill="#111" stroke="none" stroke-width="0.5"/>
<polygon points="354.6,134.66 353.05,137.45 356.15,137.45" fill="#111" stroke="none" stroke-width="0.5"/>
<polygon points="369.6,148.89 368.05,151.68 371.15,151.68" fill="#111" stroke="none" stroke-width="0.5"/>
<polygon points="384.2,150.11 382.65,152.9 385.75,152.9" fill="#111" stroke="none" stroke-width="0.5"/>
<line x1="414.6" y1="82" x2="414.6" y2="154.6" stroke="#aaa" stroke-width="0.5"/>
<line x1="414.6" y1="154.6" x2="513" y2="154.6" stroke="#aaa" stroke-width="0.5"/>
<line x1="413.3" y1="154.6" x2="414.6" y2="154.6" stroke="#555" stroke-width="0.4"/>
<text x="412.8" y="156.1" font-size="4.3" font-weight="bold" text-anchor="end" fill="#1a1a1a" stroke="#1a1a1a" stroke-width="0.22">0</text>
<line x1="413.3" y1="140.4" x2="414.6" y2="140.4" stroke="#555" stroke-width="0.4"/>
<text x="412.8" y="141.9" font-size="4.3" font-weight="bold" text-anchor="end" fill="#1a1a1a" stroke="#1a1a1a" stroke-width="0.22">500</text>
<line x1="413.3" y1="126.2" x2="414.6" y2="126.2" stroke="#555" stroke-width="0.4"/>
<text x="412.8" y="127.7" font-size="4.3" font-weight="bold" text-anchor="end" fill="#1a1a1a" stroke="#1a1a1a" stroke-width="0.22">1000</text>
<line x1="413.3" y1="112.0" x2="414.6" y2="112.0" stroke="#555" stroke-width="0.4"/>
<text x="412.8" y="113.5" font-size="4.3" font-weight="bold" text-anchor="end" fill="#1a1a1a" stroke="#1a1a1a" stroke-width="0.22">1500</text>
<line x1="413.3" y1="97.8" x2="414.6" y2="97.8" stroke="#555" stroke-width="0.4"/>
<text x="412.8" y="99.3" font-size="4.3" font-weight="bold" text-anchor="end" fill="#1a1a1a" stroke="#1a1a1a" stroke-width="0.22">2000</text>
<line x1="413.3" y1="83.6" x2="414.6" y2="83.6" stroke="#555" stroke-width="0.4"/>
<text x="412.8" y="85.1" font-size="4.3" font-weight="bold" text-anchor="end" fill="#1a1a1a" stroke="#1a1a1a" stroke-width="0.22">2500</text>
<line x1="422.3" y1="154.6" x2="422.3" y2="155.9" stroke="#555" stroke-width="0.4"/>
<text x="422.3" y="161.5" font-size="4.3" font-weight="bold" text-anchor="middle" fill="#1a1a1a" stroke="#1a1a1a" stroke-width="0.22">0</text>
<line x1="438.7" y1="154.6" x2="438.7" y2="155.9" stroke="#555" stroke-width="0.4"/>
<text x="438.7" y="161.5" font-size="4.3" font-weight="bold" text-anchor="middle" fill="#1a1a1a" stroke="#1a1a1a" stroke-width="0.22">1</text>
<line x1="454.9" y1="154.6" x2="454.9" y2="155.9" stroke="#555" stroke-width="0.4"/>
<text x="454.9" y="161.5" font-size="4.3" font-weight="bold" text-anchor="middle" fill="#1a1a1a" stroke="#1a1a1a" stroke-width="0.22">2</text>
<line x1="471.3" y1="154.6" x2="471.3" y2="155.9" stroke="#555" stroke-width="0.4"/>
<text x="471.3" y="161.5" font-size="4.3" font-weight="bold" text-anchor="middle" fill="#1a1a1a" stroke="#1a1a1a" stroke-width="0.22">3</text>
<line x1="487.5" y1="154.6" x2="487.5" y2="155.9" stroke="#555" stroke-width="0.4"/>
<text x="487.5" y="161.5" font-size="4.3" font-weight="bold" text-anchor="middle" fill="#1a1a1a" stroke="#1a1a1a" stroke-width="0.22">4</text>
<line x1="504.6" y1="154.6" x2="504.6" y2="155.9" stroke="#555" stroke-width="0.4"/>
<text x="504.6" y="161.5" font-size="4.3" font-weight="bold" text-anchor="middle" fill="#1a1a1a" stroke="#1a1a1a" stroke-width="0.22">5</text>
<text x="463" y="168" font-size="4.3" font-weight="bold" text-anchor="middle" fill="#1a1a1a" stroke="#1a1a1a" stroke-width="0.22">Week</text>
<text x="477.8" y="78.5" font-size="4.3" font-weight="bold" text-anchor="middle" fill="#1a1a1a" stroke="#1a1a1a" stroke-width="0.22">AML 5</text>
<text x="398.5" y="118" font-size="4.5" font-weight="bold" text-anchor="middle" fill="#1a1a1a" transform="rotate(-90 398.5 118)" stroke="#1a1a1a" stroke-width="0.22">Normalized Cum. Cell Number (x 1000)</text>
<line x1="416.4" y1="83.5" x2="425.8" y2="83.5" stroke="#aaa" stroke-width="0.6" stroke-dasharray="2 1.5"/>
<polygon points="421.1,82.0 419.6,84.7 422.6,84.7" fill="#fff" stroke="#aaa" stroke-width="0.4"/>
<text x="428.9" y="85.0" font-size="4.5" font-weight="bold" text-anchor="start" fill="#1a1a1a" stroke="#1a1a1a" stroke-width="0.22">Renilla RNAi</text>
<line x1="416.4" y1="91.9" x2="425.8" y2="91.9" stroke="#888" stroke-width="0.5"/>
<polygon points="421.1,89.3 418.4,93.1 423.8,93.1" fill="#111"/>
<text x="428.9" y="93.30000000000001" font-size="4.5" font-weight="bold" text-anchor="start" fill="#1a1a1a" stroke="#1a1a1a" stroke-width="0.22">STAT5 RNAi</text>
<polyline points="422.3,154.6 438.7,154.6 454.9,154.03 471.3,149.2 487.5,133.02 504.6,95.24" fill="none" stroke="#d8d8d8" stroke-width="0.7"/>
<polyline points="422.3,154.6 438.7,154.6 454.9,154.32 471.3,151.19 487.5,136.99 504.6,122.79" fill="none" stroke="#ccc" stroke-width="0.7"/>
<polygon points="422.3,153.1 420.8,155.8 423.8,155.8" fill="#fff" stroke="#d4d4d4" stroke-width="0.45"/>
<polygon points="438.7,153.1 437.2,155.8 440.2,155.8" fill="#fff" stroke="#d4d4d4" stroke-width="0.45"/>
<polygon points="454.9,152.53 453.4,155.23 456.4,155.23" fill="#fff" stroke="#d4d4d4" stroke-width="0.45"/>
<polygon points="471.3,147.7 469.8,150.4 472.8,150.4" fill="#fff" stroke="#d4d4d4" stroke-width="0.45"/>
<polygon points="487.5,131.52 486.0,134.22 489.0,134.22" fill="#fff" stroke="#d4d4d4" stroke-width="0.45"/>
<polygon points="504.6,93.74 503.1,96.44 506.1,96.44" fill="#fff" stroke="#d4d4d4" stroke-width="0.45"/>
<polygon points="422.3,153.3 421.0,155.64 423.6,155.64" fill="#111" stroke="none" stroke-width="0.5"/>
<polygon points="438.7,153.3 437.4,155.64 440.0,155.64" fill="#111" stroke="none" stroke-width="0.5"/>
<polygon points="454.9,153.02 453.6,155.36 456.2,155.36" fill="#111" stroke="none" stroke-width="0.5"/>
<polygon points="471.3,149.89 470.0,152.23 472.6,152.23" fill="#111" stroke="none" stroke-width="0.5"/>
<polygon points="487.5,135.69 486.2,138.03 488.8,138.03" fill="#111" stroke="none" stroke-width="0.5"/>
<polygon points="504.6,121.49 503.3,123.83 505.9,123.83" fill="#111" stroke="none" stroke-width="0.5"/>
<line x1="289.3" y1="176" x2="289.3" y2="242.5" stroke="#bbb" stroke-width="0.5"/>
<line x1="289.3" y1="242.5" x2="384" y2="242.5" stroke="#bbb" stroke-width="0.5"/>
<line x1="288.0" y1="242.5" x2="289.3" y2="242.5" stroke="#555" stroke-width="0.4"/>
<text x="285.90000000000003" y="244.0" font-size="4.3" font-weight="bold" text-anchor="end" fill="#1a1a1a" stroke="#1a1a1a" stroke-width="0.22">0</text>
<line x1="288.0" y1="229.8" x2="289.3" y2="229.8" stroke="#555" stroke-width="0.4"/>
<text x="285.90000000000003" y="231.3" font-size="4.3" font-weight="bold" text-anchor="end" fill="#1a1a1a" stroke="#1a1a1a" stroke-width="0.22">500</text>
<line x1="288.0" y1="217.1" x2="289.3" y2="217.1" stroke="#555" stroke-width="0.4"/>
<text x="285.90000000000003" y="218.6" font-size="4.3" font-weight="bold" text-anchor="end" fill="#1a1a1a" stroke="#1a1a1a" stroke-width="0.22">1000</text>
<line x1="288.0" y1="204.4" x2="289.3" y2="204.4" stroke="#555" stroke-width="0.4"/>
<text x="285.90000000000003" y="205.9" font-size="4.3" font-weight="bold" text-anchor="end" fill="#1a1a1a" stroke="#1a1a1a" stroke-width="0.22">1500</text>
<line x1="288.0" y1="191.7" x2="289.3" y2="191.7" stroke="#555" stroke-width="0.4"/>
<text x="285.90000000000003" y="193.2" font-size="4.3" font-weight="bold" text-anchor="end" fill="#1a1a1a" stroke="#1a1a1a" stroke-width="0.22">2000</text>
<line x1="288.0" y1="179.0" x2="289.3" y2="179.0" stroke="#555" stroke-width="0.4"/>
<text x="285.90000000000003" y="180.5" font-size="4.3" font-weight="bold" text-anchor="end" fill="#1a1a1a" stroke="#1a1a1a" stroke-width="0.22">2500</text>
<line x1="295.8" y1="242.5" x2="295.8" y2="243.8" stroke="#555" stroke-width="0.4"/>
<text x="295.8" y="248.7" font-size="4.3" font-weight="bold" text-anchor="middle" fill="#1a1a1a" stroke="#1a1a1a" stroke-width="0.22">0</text>
<line x1="309.3" y1="242.5" x2="309.3" y2="243.8" stroke="#555" stroke-width="0.4"/>
<text x="309.3" y="248.7" font-size="4.3" font-weight="bold" text-anchor="middle" fill="#1a1a1a" stroke="#1a1a1a" stroke-width="0.22">1</text>
<line x1="322.7" y1="242.5" x2="322.7" y2="243.8" stroke="#555" stroke-width="0.4"/>
<text x="322.7" y="248.7" font-size="4.3" font-weight="bold" text-anchor="middle" fill="#1a1a1a" stroke="#1a1a1a" stroke-width="0.22">2</text>
<line x1="335.8" y1="242.5" x2="335.8" y2="243.8" stroke="#555" stroke-width="0.4"/>
<text x="335.8" y="248.7" font-size="4.3" font-weight="bold" text-anchor="middle" fill="#1a1a1a" stroke="#1a1a1a" stroke-width="0.22">3</text>
<line x1="349.3" y1="242.5" x2="349.3" y2="243.8" stroke="#555" stroke-width="0.4"/>
<text x="349.3" y="248.7" font-size="4.3" font-weight="bold" text-anchor="middle" fill="#1a1a1a" stroke="#1a1a1a" stroke-width="0.22">4</text>
<line x1="362.5" y1="242.5" x2="362.5" y2="243.8" stroke="#555" stroke-width="0.4"/>
<text x="362.5" y="248.7" font-size="4.3" font-weight="bold" text-anchor="middle" fill="#1a1a1a" stroke="#1a1a1a" stroke-width="0.22">5</text>
<line x1="375.6" y1="242.5" x2="375.6" y2="243.8" stroke="#555" stroke-width="0.4"/>
<text x="375.6" y="248.7" font-size="4.3" font-weight="bold" text-anchor="middle" fill="#1a1a1a" stroke="#1a1a1a" stroke-width="0.22">6</text>
<text x="336.4" y="254.6" font-size="4.3" font-weight="bold" text-anchor="middle" fill="#1a1a1a" stroke="#1a1a1a" stroke-width="0.22">Week</text>
<text x="352" y="179.2" font-size="4.3" font-weight="bold" text-anchor="middle" fill="#1a1a1a" stroke="#1a1a1a" stroke-width="0.22">AML 11</text>
<text x="272.4" y="211.6" font-size="4.56" font-weight="bold" text-anchor="middle" fill="#1a1a1a" transform="rotate(-90 272.4 211.6)" stroke="#1a1a1a" stroke-width="0.22">Normalized Cum. Cell Number (x 1000)</text>
<line x1="292" y1="178.7" x2="300.5" y2="178.7" stroke="#aaa" stroke-width="0.6" stroke-dasharray="2 1.5"/>
<polygon points="296.25,177.2 294.75,179.9 297.75,179.9" fill="#fff" stroke="#aaa" stroke-width="0.4"/>
<text x="303.1" y="180.2" font-size="4.5" font-weight="bold" text-anchor="start" fill="#1a1a1a" stroke="#1a1a1a" stroke-width="0.22">Renilla RNAi</text>
<line x1="292" y1="187.5" x2="300.5" y2="187.5" stroke="#888" stroke-width="0.5"/>
<polygon points="296.25,184.9 293.55,188.7 298.95,188.7" fill="#111"/>
<text x="303.1" y="188.9" font-size="4.5" font-weight="bold" text-anchor="start" fill="#1a1a1a" stroke="#1a1a1a" stroke-width="0.22">STAT5 RNAi</text>
<polyline points="295.8,242.5 309.3,241.99 322.7,239.93 335.8,238.0 349.3,224.9 362.5,198.56 375.6,189.57" fill="none" stroke="#ddd" stroke-width="0.7"/>
<polyline points="295.8,242.5 309.3,241.99 322.7,240.44 335.8,238.0 349.3,229.01 362.5,221.49 375.6,225.61" fill="none" stroke="#ccc" stroke-width="0.7"/>
<polygon points="295.8,241.0 294.3,243.7 297.3,243.7" fill="#fff" stroke="#d4d4d4" stroke-width="0.45"/>
<polygon points="309.3,240.49 307.8,243.19 310.8,243.19" fill="#fff" stroke="#d4d4d4" stroke-width="0.45"/>
<polygon points="322.7,238.43 321.2,241.13 324.2,241.13" fill="#fff" stroke="#d4d4d4" stroke-width="0.45"/>
<polygon points="335.8,236.5 334.3,239.2 337.3,239.2" fill="#fff" stroke="#d4d4d4" stroke-width="0.45"/>
<polygon points="349.3,223.4 347.8,226.1 350.8,226.1" fill="#fff" stroke="#d4d4d4" stroke-width="0.45"/>
<polygon points="362.5,197.06 361.0,199.76 364.0,199.76" fill="#fff" stroke="#d4d4d4" stroke-width="0.45"/>
<polygon points="375.6,188.07 374.1,190.77 377.1,190.77" fill="#fff" stroke="#d4d4d4" stroke-width="0.45"/>
<polygon points="295.8,241.2 294.5,243.54 297.1,243.54" fill="#111" stroke="none" stroke-width="0.5"/>
<polygon points="309.3,240.69 308.0,243.03 310.6,243.03" fill="#111" stroke="none" stroke-width="0.5"/>
<polygon points="322.7,239.14 321.4,241.48 324.0,241.48" fill="#111" stroke="none" stroke-width="0.5"/>
<polygon points="335.8,236.7 334.5,239.04 337.1,239.04" fill="#111" stroke="none" stroke-width="0.5"/>
<polygon points="349.3,227.71 348.0,230.05 350.6,230.05" fill="#111" stroke="none" stroke-width="0.5"/>
<polygon points="362.5,220.19 361.2,222.53 363.8,222.53" fill="#111" stroke="none" stroke-width="0.5"/>
<polygon points="375.6,224.31 374.3,226.65 376.9,226.65" fill="#111" stroke="none" stroke-width="0.5"/>
<line x1="415.7" y1="178" x2="415.7" y2="243" stroke="#888" stroke-width="0.5"/>
<line x1="415.7" y1="243" x2="517" y2="243" stroke="#888" stroke-width="0.5"/>
<line x1="414.4" y1="243.0" x2="415.7" y2="243.0" stroke="#555" stroke-width="0.4"/>
<text x="413.5" y="244.5" font-size="4.3" font-weight="bold" text-anchor="end" fill="#1a1a1a" stroke="#1a1a1a" stroke-width="0.22">0</text>
<line x1="414.4" y1="230.55" x2="415.7" y2="230.55" stroke="#555" stroke-width="0.4"/>
<text x="413.5" y="232.05" font-size="4.3" font-weight="bold" text-anchor="end" fill="#1a1a1a" stroke="#1a1a1a" stroke-width="0.22">100</text>
<line x1="414.4" y1="218.1" x2="415.7" y2="218.1" stroke="#555" stroke-width="0.4"/>
<text x="413.5" y="219.6" font-size="4.3" font-weight="bold" text-anchor="end" fill="#1a1a1a" stroke="#1a1a1a" stroke-width="0.22">200</text>
<line x1="414.4" y1="205.65" x2="415.7" y2="205.65" stroke="#555" stroke-width="0.4"/>
<text x="413.5" y="207.15" font-size="4.3" font-weight="bold" text-anchor="end" fill="#1a1a1a" stroke="#1a1a1a" stroke-width="0.22">300</text>
<line x1="414.4" y1="193.2" x2="415.7" y2="193.2" stroke="#555" stroke-width="0.4"/>
<text x="413.5" y="194.7" font-size="4.3" font-weight="bold" text-anchor="end" fill="#1a1a1a" stroke="#1a1a1a" stroke-width="0.22">400</text>
<line x1="414.4" y1="180.75" x2="415.7" y2="180.75" stroke="#555" stroke-width="0.4"/>
<text x="413.5" y="182.25" font-size="4.3" font-weight="bold" text-anchor="end" fill="#1a1a1a" stroke="#1a1a1a" stroke-width="0.22">500</text>
<line x1="424.3" y1="243" x2="424.3" y2="244.3" stroke="#555" stroke-width="0.4"/>
<text x="424.3" y="248.9" font-size="4.3" font-weight="bold" text-anchor="middle" fill="#1a1a1a" stroke="#1a1a1a" stroke-width="0.22">0</text>
<line x1="441.2" y1="243" x2="441.2" y2="244.3" stroke="#555" stroke-width="0.4"/>
<text x="441.2" y="248.9" font-size="4.3" font-weight="bold" text-anchor="middle" fill="#1a1a1a" stroke="#1a1a1a" stroke-width="0.22">1</text>
<line x1="458.8" y1="243" x2="458.8" y2="244.3" stroke="#555" stroke-width="0.4"/>
<text x="458.8" y="248.9" font-size="4.3" font-weight="bold" text-anchor="middle" fill="#1a1a1a" stroke="#1a1a1a" stroke-width="0.22">2</text>
<line x1="476.5" y1="243" x2="476.5" y2="244.3" stroke="#555" stroke-width="0.4"/>
<text x="476.5" y="248.9" font-size="4.3" font-weight="bold" text-anchor="middle" fill="#1a1a1a" stroke="#1a1a1a" stroke-width="0.22">3</text>
<line x1="493.7" y1="243" x2="493.7" y2="244.3" stroke="#555" stroke-width="0.4"/>
<text x="493.7" y="248.9" font-size="4.3" font-weight="bold" text-anchor="middle" fill="#1a1a1a" stroke="#1a1a1a" stroke-width="0.22">4</text>
<line x1="511.4" y1="243" x2="511.4" y2="244.3" stroke="#555" stroke-width="0.4"/>
<text x="511.4" y="248.9" font-size="4.3" font-weight="bold" text-anchor="middle" fill="#1a1a1a" stroke="#1a1a1a" stroke-width="0.22">5</text>
<text x="464.8" y="254.4" font-size="4.3" font-weight="bold" text-anchor="middle" fill="#1a1a1a" stroke="#1a1a1a" stroke-width="0.22">Week</text>
<text x="478.7" y="179.2" font-size="4.3" font-weight="bold" text-anchor="middle" fill="#1a1a1a" stroke="#1a1a1a" stroke-width="0.22">AML 8</text>
<text x="399.3" y="211.4" font-size="4.54" font-weight="bold" text-anchor="middle" fill="#1a1a1a" transform="rotate(-90 399.3 211.4)" stroke="#1a1a1a" stroke-width="0.22">Normalized Cum. Cell Number (x 1000)</text>
<line x1="417.3" y1="180.3" x2="426" y2="180.3" stroke="#aaa" stroke-width="0.6" stroke-dasharray="2 1.5"/>
<polygon points="421.65,178.8 420.15,181.5 423.15,181.5" fill="#fff" stroke="#aaa" stroke-width="0.4"/>
<text x="428.7" y="181.8" font-size="4.5" font-weight="bold" text-anchor="start" fill="#1a1a1a" stroke="#1a1a1a" stroke-width="0.22">Renilla RNAi</text>
<line x1="417.3" y1="188.7" x2="426" y2="188.7" stroke="#888" stroke-width="0.5"/>
<polygon points="421.65,186.1 418.95,189.9 424.35,189.9" fill="#111"/>
<text x="428.7" y="190.1" font-size="4.5" font-weight="bold" text-anchor="start" fill="#1a1a1a" stroke="#1a1a1a" stroke-width="0.22">STAT5 RNAi</text>
<polyline points="424.3,241.75 441.2,243.0 458.8,241.75 476.5,239.64 493.7,235.78 511.4,188.22" fill="none" stroke="#777" stroke-width="0.7"/>
<polyline points="424.3,241.75 441.2,243.0 458.8,241.75 476.5,239.64 493.7,238.02 511.4,221.96" fill="none" stroke="#666" stroke-width="0.7"/>
<polygon points="424.3,240.25 422.8,242.95 425.8,242.95" fill="#fff" stroke="#999" stroke-width="0.45"/>
<polygon points="441.2,241.5 439.7,244.2 442.7,244.2" fill="#fff" stroke="#999" stroke-width="0.45"/>
<polygon points="458.8,240.25 457.3,242.95 460.3,242.95" fill="#fff" stroke="#999" stroke-width="0.45"/>
<polygon points="476.5,238.14 475.0,240.84 478.0,240.84" fill="#fff" stroke="#999" stroke-width="0.45"/>
<polygon points="493.7,234.28 492.2,236.98 495.2,236.98" fill="#fff" stroke="#999" stroke-width="0.45"/>
<polygon points="511.4,186.72 509.9,189.42 512.9,189.42" fill="#fff" stroke="#999" stroke-width="0.45"/>
<polygon points="424.3,240.2 422.75,242.99 425.85,242.99" fill="#111" stroke="none" stroke-width="0.5"/>
<polygon points="441.2,241.45 439.65,244.24 442.75,244.24" fill="#111" stroke="none" stroke-width="0.5"/>
<polygon points="458.8,240.2 457.25,242.99 460.35,242.99" fill="#111" stroke="none" stroke-width="0.5"/>
<polygon points="476.5,238.09 474.95,240.88 478.05,240.88" fill="#111" stroke="none" stroke-width="0.5"/>
<polygon points="493.7,236.47 492.15,239.26 495.25,239.26" fill="#111" stroke="none" stroke-width="0.5"/>
<polygon points="511.4,220.41 509.85,223.2 512.95,223.2" fill="#111" stroke="none" stroke-width="0.5"/>
</svg>
</body></html>
